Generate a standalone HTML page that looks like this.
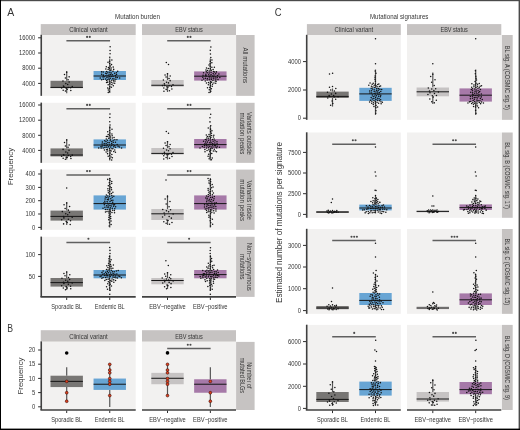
<!DOCTYPE html>
<html><head><meta charset="utf-8"><title>Figure</title>
<style>
html,body{margin:0;padding:0;background:#fff;}
body{width:520px;height:430px;overflow:hidden;}
svg{display:block;will-change:transform;}
text{font-family:"Liberation Sans",sans-serif;}
</style></head><body>
<svg width="520" height="430" viewBox="0 0 520 430">
<rect x="0.00" y="0.00" width="520.00" height="430.00" fill="#ffffff" />
<rect x="40.75" y="24.10" width="94.95" height="10.90" fill="#c6c3c2" />
<rect x="142.00" y="24.10" width="94.00" height="10.90" fill="#c6c3c2" />
<text x="88.45" y="32.10" font-size="7.4" text-anchor="middle" fill="#363636" textLength="38.60" lengthAdjust="spacingAndGlyphs">Clinical variant</text>
<text x="189.00" y="32.10" font-size="7.4" text-anchor="middle" fill="#363636" textLength="27.40" lengthAdjust="spacingAndGlyphs">EBV status</text>
<text x="137.50" y="19.40" font-size="6.7" text-anchor="middle" fill="#363636" textLength="45.00" lengthAdjust="spacingAndGlyphs">Mutation burden</text>
<text x="7.20" y="15.60" font-size="11.5" text-anchor="start" fill="#363636" textLength="7.00" lengthAdjust="spacingAndGlyphs">A</text>
<text x="7.20" y="332.20" font-size="11.5" text-anchor="start" fill="#363636" textLength="5.80" lengthAdjust="spacingAndGlyphs">B</text>
<rect x="41.20" y="35.00" width="94.50" height="60.85" fill="#f2f1f0" />
<rect x="142.00" y="35.00" width="94.00" height="60.85" fill="#f2f1f0" />
<rect x="236.10" y="35.00" width="18.50" height="60.85" fill="#c6c3c2" />
<line x1="41.25" y1="34.80" x2="41.25" y2="95.85" stroke="#404040" stroke-width="1.6"/>
<rect x="41.20" y="102.80" width="94.50" height="60.05" fill="#f2f1f0" />
<rect x="142.00" y="102.80" width="94.00" height="60.05" fill="#f2f1f0" />
<rect x="236.10" y="102.80" width="18.50" height="60.05" fill="#c6c3c2" />
<line x1="41.25" y1="102.60" x2="41.25" y2="162.85" stroke="#404040" stroke-width="1.6"/>
<rect x="41.20" y="169.60" width="94.50" height="60.25" fill="#f2f1f0" />
<rect x="142.00" y="169.60" width="94.00" height="60.25" fill="#f2f1f0" />
<rect x="236.10" y="169.60" width="18.50" height="60.25" fill="#c6c3c2" />
<line x1="41.25" y1="169.40" x2="41.25" y2="229.85" stroke="#404040" stroke-width="1.6"/>
<rect x="41.20" y="236.80" width="94.50" height="60.10" fill="#f2f1f0" />
<rect x="142.00" y="236.80" width="94.00" height="60.10" fill="#f2f1f0" />
<rect x="236.10" y="236.80" width="18.50" height="60.10" fill="#c6c3c2" />
<line x1="41.25" y1="236.60" x2="41.25" y2="296.90" stroke="#404040" stroke-width="1.6"/>
<line x1="40.45" y1="296.90" x2="135.70" y2="296.90" stroke="#404040" stroke-width="1.6"/>
<line x1="142.00" y1="296.90" x2="236.00" y2="296.90" stroke="#404040" stroke-width="1.6"/>
<line x1="66.70" y1="297.40" x2="66.70" y2="300.00" stroke="#2e2e2e" stroke-width="1.0"/>
<line x1="109.75" y1="297.40" x2="109.75" y2="300.00" stroke="#2e2e2e" stroke-width="1.0"/>
<line x1="167.50" y1="297.40" x2="167.50" y2="300.00" stroke="#2e2e2e" stroke-width="1.0"/>
<line x1="210.35" y1="297.40" x2="210.35" y2="300.00" stroke="#2e2e2e" stroke-width="1.0"/>
<text x="66.70" y="308.80" font-size="6.9" text-anchor="middle" fill="#363636" textLength="30.80" lengthAdjust="spacingAndGlyphs">Sporadic BL</text>
<text x="109.75" y="308.80" font-size="6.9" text-anchor="middle" fill="#363636" textLength="29.80" lengthAdjust="spacingAndGlyphs">Endemic BL</text>
<text x="167.50" y="308.80" font-size="6.9" text-anchor="middle" fill="#363636" textLength="36.50" lengthAdjust="spacingAndGlyphs">EBV−negative</text>
<text x="210.35" y="308.80" font-size="6.9" text-anchor="middle" fill="#363636" textLength="34.50" lengthAdjust="spacingAndGlyphs">EBV−positive</text>
<line x1="38.10" y1="37.80" x2="41.00" y2="37.80" stroke="#2e2e2e" stroke-width="1.0"/>
<text x="35.30" y="40.05" font-size="6.6" text-anchor="end" fill="#363636" textLength="16.25" lengthAdjust="spacingAndGlyphs">16000</text>
<line x1="38.10" y1="53.00" x2="41.00" y2="53.00" stroke="#2e2e2e" stroke-width="1.0"/>
<text x="35.30" y="55.25" font-size="6.6" text-anchor="end" fill="#363636" textLength="16.25" lengthAdjust="spacingAndGlyphs">12000</text>
<line x1="38.10" y1="68.20" x2="41.00" y2="68.20" stroke="#2e2e2e" stroke-width="1.0"/>
<text x="35.30" y="70.45" font-size="6.6" text-anchor="end" fill="#363636" textLength="13.00" lengthAdjust="spacingAndGlyphs">8000</text>
<line x1="38.10" y1="83.40" x2="41.00" y2="83.40" stroke="#2e2e2e" stroke-width="1.0"/>
<text x="35.30" y="85.65" font-size="6.6" text-anchor="end" fill="#363636" textLength="13.00" lengthAdjust="spacingAndGlyphs">4000</text>
<line x1="38.10" y1="105.00" x2="41.00" y2="105.00" stroke="#2e2e2e" stroke-width="1.0"/>
<text x="35.30" y="107.25" font-size="6.6" text-anchor="end" fill="#363636" textLength="16.25" lengthAdjust="spacingAndGlyphs">16000</text>
<line x1="38.10" y1="120.20" x2="41.00" y2="120.20" stroke="#2e2e2e" stroke-width="1.0"/>
<text x="35.30" y="122.45" font-size="6.6" text-anchor="end" fill="#363636" textLength="16.25" lengthAdjust="spacingAndGlyphs">12000</text>
<line x1="38.10" y1="135.30" x2="41.00" y2="135.30" stroke="#2e2e2e" stroke-width="1.0"/>
<text x="35.30" y="137.55" font-size="6.6" text-anchor="end" fill="#363636" textLength="13.00" lengthAdjust="spacingAndGlyphs">8000</text>
<line x1="38.10" y1="150.40" x2="41.00" y2="150.40" stroke="#2e2e2e" stroke-width="1.0"/>
<text x="35.30" y="152.65" font-size="6.6" text-anchor="end" fill="#363636" textLength="13.00" lengthAdjust="spacingAndGlyphs">4000</text>
<line x1="38.10" y1="174.00" x2="41.00" y2="174.00" stroke="#2e2e2e" stroke-width="1.0"/>
<text x="35.30" y="176.25" font-size="6.6" text-anchor="end" fill="#363636" textLength="9.75" lengthAdjust="spacingAndGlyphs">400</text>
<line x1="38.10" y1="187.40" x2="41.00" y2="187.40" stroke="#2e2e2e" stroke-width="1.0"/>
<text x="35.30" y="189.65" font-size="6.6" text-anchor="end" fill="#363636" textLength="9.75" lengthAdjust="spacingAndGlyphs">300</text>
<line x1="38.10" y1="200.70" x2="41.00" y2="200.70" stroke="#2e2e2e" stroke-width="1.0"/>
<text x="35.30" y="202.95" font-size="6.6" text-anchor="end" fill="#363636" textLength="9.75" lengthAdjust="spacingAndGlyphs">200</text>
<line x1="38.10" y1="214.00" x2="41.00" y2="214.00" stroke="#2e2e2e" stroke-width="1.0"/>
<text x="35.30" y="216.25" font-size="6.6" text-anchor="end" fill="#363636" textLength="9.75" lengthAdjust="spacingAndGlyphs">100</text>
<line x1="38.10" y1="227.40" x2="41.00" y2="227.40" stroke="#2e2e2e" stroke-width="1.0"/>
<text x="35.30" y="229.65" font-size="6.6" text-anchor="end" fill="#363636" textLength="3.25" lengthAdjust="spacingAndGlyphs">0</text>
<line x1="38.10" y1="254.60" x2="41.00" y2="254.60" stroke="#2e2e2e" stroke-width="1.0"/>
<text x="35.30" y="256.85" font-size="6.6" text-anchor="end" fill="#363636" textLength="9.75" lengthAdjust="spacingAndGlyphs">100</text>
<line x1="38.10" y1="276.40" x2="41.00" y2="276.40" stroke="#2e2e2e" stroke-width="1.0"/>
<text x="35.30" y="278.65" font-size="6.6" text-anchor="end" fill="#363636" textLength="6.50" lengthAdjust="spacingAndGlyphs">50</text>
<text transform="translate(12.80,166.60) rotate(-90)" font-size="8.0" text-anchor="middle" fill="#363636" textLength="37.40" lengthAdjust="spacingAndGlyphs">Frequency</text>
<text transform="translate(243.40,65.30) rotate(90)" font-size="7.0" text-anchor="middle" fill="#363636" textLength="35.50" lengthAdjust="spacingAndGlyphs">All mutations</text>
<text transform="translate(247.40,133.50) rotate(90)" font-size="7.0" text-anchor="middle" fill="#363636" textLength="43.00" lengthAdjust="spacingAndGlyphs">Variants outside</text>
<text transform="translate(239.60,133.50) rotate(90)" font-size="7.0" text-anchor="middle" fill="#363636" textLength="41.80" lengthAdjust="spacingAndGlyphs">mutation peaks</text>
<text transform="translate(247.40,200.20) rotate(90)" font-size="7.0" text-anchor="middle" fill="#363636" textLength="39.50" lengthAdjust="spacingAndGlyphs">Variants inside</text>
<text transform="translate(239.60,200.20) rotate(90)" font-size="7.0" text-anchor="middle" fill="#363636" textLength="41.80" lengthAdjust="spacingAndGlyphs">mutation peaks</text>
<text transform="translate(247.40,266.80) rotate(90)" font-size="7.0" text-anchor="middle" fill="#363636" textLength="48.00" lengthAdjust="spacingAndGlyphs">Non−synonymous</text>
<text transform="translate(239.60,266.80) rotate(90)" font-size="7.0" text-anchor="middle" fill="#363636" textLength="25.50" lengthAdjust="spacingAndGlyphs">mutations</text>
<line x1="66.70" y1="70.90" x2="66.70" y2="80.80" stroke="#555" stroke-width="1.2"/>
<line x1="66.70" y1="88.10" x2="66.70" y2="93.20" stroke="#555" stroke-width="1.2"/>
<rect x="50.50" y="80.80" width="32.40" height="7.30" fill="#787674" />
<line x1="50.50" y1="87.40" x2="82.90" y2="87.40" stroke="#161616" stroke-width="1.0"/>
<line x1="109.75" y1="58.50" x2="109.75" y2="71.00" stroke="#555" stroke-width="1.2"/>
<line x1="109.75" y1="80.00" x2="109.75" y2="93.00" stroke="#555" stroke-width="1.2"/>
<rect x="93.55" y="71.00" width="32.40" height="9.00" fill="#68a5d4" />
<line x1="93.55" y1="76.00" x2="125.95" y2="76.00" stroke="#161616" stroke-width="1.0"/>
<line x1="167.50" y1="73.00" x2="167.50" y2="80.00" stroke="#555" stroke-width="1.2"/>
<line x1="167.50" y1="86.75" x2="167.50" y2="92.00" stroke="#555" stroke-width="1.2"/>
<rect x="151.30" y="80.00" width="32.40" height="6.75" fill="#c6c3c3" />
<line x1="151.30" y1="85.25" x2="183.70" y2="85.25" stroke="#161616" stroke-width="1.0"/>
<line x1="210.35" y1="58.50" x2="210.35" y2="71.40" stroke="#555" stroke-width="1.2"/>
<line x1="210.35" y1="80.60" x2="210.35" y2="93.00" stroke="#555" stroke-width="1.2"/>
<rect x="194.15" y="71.40" width="32.40" height="9.20" fill="#a679a8" />
<line x1="194.15" y1="76.20" x2="226.55" y2="76.20" stroke="#161616" stroke-width="1.0"/>
<circle cx="66.70" cy="72.33" r="0.76" fill="#111" />
<circle cx="64.49" cy="74.55" r="0.76" fill="#111" />
<circle cx="69.15" cy="76.87" r="0.76" fill="#111" />
<circle cx="65.39" cy="77.91" r="0.76" fill="#111" />
<circle cx="68.09" cy="79.78" r="0.76" fill="#111" />
<circle cx="62.97" cy="81.01" r="0.76" fill="#111" />
<circle cx="69.12" cy="82.01" r="0.76" fill="#111" />
<circle cx="65.81" cy="83.61" r="0.76" fill="#111" />
<circle cx="67.69" cy="84.47" r="0.76" fill="#111" />
<circle cx="63.47" cy="86.03" r="0.76" fill="#111" />
<circle cx="72.26" cy="86.51" r="0.76" fill="#111" />
<circle cx="63.90" cy="86.82" r="0.76" fill="#111" />
<circle cx="68.39" cy="87.39" r="0.76" fill="#111" />
<circle cx="61.64" cy="88.01" r="0.76" fill="#111" />
<circle cx="70.62" cy="87.75" r="0.76" fill="#111" />
<circle cx="66.15" cy="88.31" r="0.76" fill="#111" />
<circle cx="67.23" cy="89.29" r="0.76" fill="#111" />
<circle cx="63.21" cy="90.21" r="0.76" fill="#111" />
<circle cx="70.83" cy="90.57" r="0.76" fill="#111" />
<circle cx="65.46" cy="91.09" r="0.76" fill="#111" />
<circle cx="109.30" cy="76.34" r="0.76" fill="#111" />
<circle cx="111.17" cy="76.49" r="0.76" fill="#111" />
<circle cx="108.03" cy="75.78" r="0.76" fill="#111" />
<circle cx="113.06" cy="76.58" r="0.76" fill="#111" />
<circle cx="105.95" cy="75.72" r="0.76" fill="#111" />
<circle cx="104.14" cy="76.86" r="0.76" fill="#111" />
<circle cx="115.32" cy="75.63" r="0.76" fill="#111" />
<circle cx="102.99" cy="77.05" r="0.76" fill="#111" />
<circle cx="103.34" cy="75.13" r="0.76" fill="#111" />
<circle cx="115.80" cy="77.21" r="0.76" fill="#111" />
<circle cx="112.50" cy="74.85" r="0.76" fill="#111" />
<circle cx="106.97" cy="77.52" r="0.76" fill="#111" />
<circle cx="117.35" cy="77.47" r="0.76" fill="#111" />
<circle cx="110.72" cy="74.62" r="0.76" fill="#111" />
<circle cx="108.87" cy="77.97" r="0.76" fill="#111" />
<circle cx="116.55" cy="74.47" r="0.76" fill="#111" />
<circle cx="100.28" cy="78.01" r="0.76" fill="#111" />
<circle cx="101.63" cy="74.36" r="0.76" fill="#111" />
<circle cx="119.68" cy="77.94" r="0.76" fill="#111" />
<circle cx="109.05" cy="74.17" r="0.76" fill="#111" />
<circle cx="110.32" cy="78.24" r="0.76" fill="#111" />
<circle cx="106.77" cy="73.82" r="0.76" fill="#111" />
<circle cx="112.77" cy="78.72" r="0.76" fill="#111" />
<circle cx="114.03" cy="78.89" r="0.76" fill="#111" />
<circle cx="105.71" cy="73.32" r="0.76" fill="#111" />
<circle cx="105.65" cy="78.90" r="0.76" fill="#111" />
<circle cx="114.66" cy="73.37" r="0.76" fill="#111" />
<circle cx="103.35" cy="79.32" r="0.76" fill="#111" />
<circle cx="111.22" cy="72.90" r="0.76" fill="#111" />
<circle cx="115.90" cy="79.19" r="0.76" fill="#111" />
<circle cx="116.42" cy="72.73" r="0.76" fill="#111" />
<circle cx="107.74" cy="79.75" r="0.76" fill="#111" />
<circle cx="109.84" cy="72.33" r="0.76" fill="#111" />
<circle cx="101.65" cy="79.67" r="0.76" fill="#111" />
<circle cx="107.89" cy="72.24" r="0.76" fill="#111" />
<circle cx="109.25" cy="79.84" r="0.76" fill="#111" />
<circle cx="111.78" cy="80.35" r="0.76" fill="#111" />
<circle cx="103.23" cy="72.00" r="0.76" fill="#111" />
<circle cx="101.60" cy="71.87" r="0.76" fill="#111" />
<circle cx="106.59" cy="80.57" r="0.76" fill="#111" />
<circle cx="112.97" cy="71.37" r="0.76" fill="#111" />
<circle cx="113.63" cy="80.88" r="0.76" fill="#111" />
<circle cx="106.53" cy="71.44" r="0.76" fill="#111" />
<circle cx="117.69" cy="71.23" r="0.76" fill="#111" />
<circle cx="114.98" cy="81.12" r="0.76" fill="#111" />
<circle cx="109.76" cy="81.69" r="0.76" fill="#111" />
<circle cx="110.24" cy="70.36" r="0.76" fill="#111" />
<circle cx="107.72" cy="82.13" r="0.76" fill="#111" />
<circle cx="111.18" cy="69.93" r="0.76" fill="#111" />
<circle cx="111.31" cy="82.30" r="0.76" fill="#111" />
<circle cx="108.15" cy="69.56" r="0.76" fill="#111" />
<circle cx="106.59" cy="82.49" r="0.76" fill="#111" />
<circle cx="113.71" cy="69.38" r="0.76" fill="#111" />
<circle cx="112.98" cy="83.03" r="0.76" fill="#111" />
<circle cx="105.85" cy="68.90" r="0.76" fill="#111" />
<circle cx="114.67" cy="83.31" r="0.76" fill="#111" />
<circle cx="109.27" cy="68.34" r="0.76" fill="#111" />
<circle cx="109.80" cy="83.88" r="0.76" fill="#111" />
<circle cx="111.16" cy="67.89" r="0.76" fill="#111" />
<circle cx="111.88" cy="84.42" r="0.76" fill="#111" />
<circle cx="108.43" cy="67.57" r="0.76" fill="#111" />
<circle cx="113.20" cy="67.12" r="0.76" fill="#111" />
<circle cx="108.19" cy="84.80" r="0.76" fill="#111" />
<circle cx="106.32" cy="66.66" r="0.76" fill="#111" />
<circle cx="113.30" cy="85.67" r="0.76" fill="#111" />
<circle cx="110.21" cy="65.97" r="0.76" fill="#111" />
<circle cx="109.80" cy="86.78" r="0.76" fill="#111" />
<circle cx="111.41" cy="87.18" r="0.76" fill="#111" />
<circle cx="111.55" cy="64.62" r="0.76" fill="#111" />
<circle cx="107.71" cy="87.92" r="0.76" fill="#111" />
<circle cx="109.65" cy="63.44" r="0.76" fill="#111" />
<circle cx="109.27" cy="88.60" r="0.76" fill="#111" />
<circle cx="107.98" cy="62.33" r="0.76" fill="#111" />
<circle cx="108.33" cy="90.08" r="0.76" fill="#111" />
<circle cx="109.58" cy="61.15" r="0.76" fill="#111" />
<circle cx="109.40" cy="91.41" r="0.76" fill="#111" />
<circle cx="111.89" cy="60.10" r="0.76" fill="#111" />
<circle cx="108.26" cy="92.59" r="0.76" fill="#111" />
<circle cx="109.77" cy="57.20" r="0.76" fill="#111" />
<circle cx="110.08" cy="53.84" r="0.76" fill="#111" />
<circle cx="110.08" cy="50.46" r="0.76" fill="#111" />
<circle cx="110.14" cy="46.81" r="0.76" fill="#111" />
<circle cx="167.50" cy="73.78" r="0.76" fill="#111" />
<circle cx="165.05" cy="75.06" r="0.76" fill="#111" />
<circle cx="170.19" cy="75.97" r="0.76" fill="#111" />
<circle cx="166.05" cy="77.08" r="0.76" fill="#111" />
<circle cx="169.04" cy="78.43" r="0.76" fill="#111" />
<circle cx="163.37" cy="79.89" r="0.76" fill="#111" />
<circle cx="170.13" cy="80.63" r="0.76" fill="#111" />
<circle cx="166.57" cy="82.16" r="0.76" fill="#111" />
<circle cx="168.49" cy="82.88" r="0.76" fill="#111" />
<circle cx="164.34" cy="83.88" r="0.76" fill="#111" />
<circle cx="173.00" cy="84.83" r="0.76" fill="#111" />
<circle cx="164.70" cy="85.51" r="0.76" fill="#111" />
<circle cx="169.19" cy="85.68" r="0.76" fill="#111" />
<circle cx="162.44" cy="85.62" r="0.76" fill="#111" />
<circle cx="171.43" cy="86.58" r="0.76" fill="#111" />
<circle cx="166.94" cy="86.87" r="0.76" fill="#111" />
<circle cx="168.05" cy="87.00" r="0.76" fill="#111" />
<circle cx="163.82" cy="87.94" r="0.76" fill="#111" />
<circle cx="171.89" cy="88.95" r="0.76" fill="#111" />
<circle cx="166.18" cy="89.38" r="0.76" fill="#111" />
<circle cx="169.45" cy="90.83" r="0.76" fill="#111" />
<circle cx="163.95" cy="91.35" r="0.76" fill="#111" />
<circle cx="166.30" cy="62.50" r="0.76" fill="#111" />
<circle cx="168.50" cy="64.60" r="0.76" fill="#111" />
<circle cx="210.12" cy="76.10" r="0.76" fill="#111" />
<circle cx="209.03" cy="76.64" r="0.76" fill="#111" />
<circle cx="212.33" cy="76.08" r="0.76" fill="#111" />
<circle cx="213.70" cy="76.88" r="0.76" fill="#111" />
<circle cx="206.52" cy="75.96" r="0.76" fill="#111" />
<circle cx="215.37" cy="77.06" r="0.76" fill="#111" />
<circle cx="205.42" cy="75.80" r="0.76" fill="#111" />
<circle cx="202.78" cy="77.16" r="0.76" fill="#111" />
<circle cx="217.54" cy="75.52" r="0.76" fill="#111" />
<circle cx="217.17" cy="77.39" r="0.76" fill="#111" />
<circle cx="203.08" cy="75.33" r="0.76" fill="#111" />
<circle cx="219.81" cy="77.52" r="0.76" fill="#111" />
<circle cx="214.00" cy="75.07" r="0.76" fill="#111" />
<circle cx="209.90" cy="77.96" r="0.76" fill="#111" />
<circle cx="208.69" cy="74.76" r="0.76" fill="#111" />
<circle cx="211.78" cy="77.96" r="0.76" fill="#111" />
<circle cx="211.05" cy="74.39" r="0.76" fill="#111" />
<circle cx="207.45" cy="78.41" r="0.76" fill="#111" />
<circle cx="205.85" cy="74.19" r="0.76" fill="#111" />
<circle cx="205.44" cy="78.37" r="0.76" fill="#111" />
<circle cx="215.66" cy="73.84" r="0.76" fill="#111" />
<circle cx="213.73" cy="78.69" r="0.76" fill="#111" />
<circle cx="218.90" cy="73.91" r="0.76" fill="#111" />
<circle cx="215.84" cy="79.12" r="0.76" fill="#111" />
<circle cx="203.70" cy="78.92" r="0.76" fill="#111" />
<circle cx="213.20" cy="73.45" r="0.76" fill="#111" />
<circle cx="211.30" cy="79.52" r="0.76" fill="#111" />
<circle cx="209.18" cy="72.97" r="0.76" fill="#111" />
<circle cx="209.25" cy="79.82" r="0.76" fill="#111" />
<circle cx="207.26" cy="72.77" r="0.76" fill="#111" />
<circle cx="218.01" cy="79.62" r="0.76" fill="#111" />
<circle cx="203.57" cy="72.79" r="0.76" fill="#111" />
<circle cx="207.18" cy="80.05" r="0.76" fill="#111" />
<circle cx="211.09" cy="72.34" r="0.76" fill="#111" />
<circle cx="201.98" cy="80.23" r="0.76" fill="#111" />
<circle cx="214.57" cy="72.10" r="0.76" fill="#111" />
<circle cx="212.94" cy="80.45" r="0.76" fill="#111" />
<circle cx="206.25" cy="71.86" r="0.76" fill="#111" />
<circle cx="215.29" cy="80.96" r="0.76" fill="#111" />
<circle cx="216.43" cy="71.88" r="0.76" fill="#111" />
<circle cx="205.27" cy="81.02" r="0.76" fill="#111" />
<circle cx="213.47" cy="71.49" r="0.76" fill="#111" />
<circle cx="216.18" cy="81.26" r="0.76" fill="#111" />
<circle cx="209.21" cy="70.95" r="0.76" fill="#111" />
<circle cx="210.75" cy="81.87" r="0.76" fill="#111" />
<circle cx="207.41" cy="70.61" r="0.76" fill="#111" />
<circle cx="211.65" cy="82.18" r="0.76" fill="#111" />
<circle cx="211.38" cy="70.35" r="0.76" fill="#111" />
<circle cx="208.53" cy="82.62" r="0.76" fill="#111" />
<circle cx="213.94" cy="82.95" r="0.76" fill="#111" />
<circle cx="205.96" cy="69.97" r="0.76" fill="#111" />
<circle cx="206.45" cy="82.97" r="0.76" fill="#111" />
<circle cx="213.10" cy="69.41" r="0.76" fill="#111" />
<circle cx="215.75" cy="83.29" r="0.76" fill="#111" />
<circle cx="210.30" cy="83.81" r="0.76" fill="#111" />
<circle cx="210.27" cy="68.68" r="0.76" fill="#111" />
<circle cx="212.50" cy="84.14" r="0.76" fill="#111" />
<circle cx="208.34" cy="68.42" r="0.76" fill="#111" />
<circle cx="206.50" cy="67.90" r="0.76" fill="#111" />
<circle cx="208.38" cy="84.69" r="0.76" fill="#111" />
<circle cx="211.88" cy="67.34" r="0.76" fill="#111" />
<circle cx="210.50" cy="85.79" r="0.76" fill="#111" />
<circle cx="214.36" cy="67.17" r="0.76" fill="#111" />
<circle cx="210.14" cy="66.15" r="0.76" fill="#111" />
<circle cx="212.23" cy="86.23" r="0.76" fill="#111" />
<circle cx="209.82" cy="87.42" r="0.76" fill="#111" />
<circle cx="209.00" cy="65.10" r="0.76" fill="#111" />
<circle cx="207.52" cy="87.79" r="0.76" fill="#111" />
<circle cx="210.05" cy="63.70" r="0.76" fill="#111" />
<circle cx="211.40" cy="88.64" r="0.76" fill="#111" />
<circle cx="209.28" cy="89.73" r="0.76" fill="#111" />
<circle cx="211.85" cy="62.71" r="0.76" fill="#111" />
<circle cx="210.81" cy="91.27" r="0.76" fill="#111" />
<circle cx="210.25" cy="61.18" r="0.76" fill="#111" />
<circle cx="209.04" cy="92.40" r="0.76" fill="#111" />
<circle cx="211.93" cy="59.96" r="0.76" fill="#111" />
<circle cx="210.80" cy="57.59" r="0.76" fill="#111" />
<circle cx="210.42" cy="53.97" r="0.76" fill="#111" />
<circle cx="210.27" cy="50.37" r="0.76" fill="#111" />
<circle cx="210.85" cy="46.99" r="0.76" fill="#111" />
<line x1="66.40" y1="40.80" x2="110.05" y2="40.80" stroke="#606060" stroke-width="1.5"/>
<circle cx="87.08" cy="36.90" r="1.05" fill="#4a4a4a" />
<circle cx="89.77" cy="36.90" r="1.05" fill="#4a4a4a" />
<line x1="167.20" y1="40.80" x2="210.65" y2="40.80" stroke="#606060" stroke-width="1.5"/>
<circle cx="187.78" cy="36.90" r="1.05" fill="#4a4a4a" />
<circle cx="190.47" cy="36.90" r="1.05" fill="#4a4a4a" />
<line x1="66.70" y1="139.00" x2="66.70" y2="148.40" stroke="#555" stroke-width="1.2"/>
<line x1="66.70" y1="156.40" x2="66.70" y2="159.50" stroke="#555" stroke-width="1.2"/>
<rect x="50.50" y="148.40" width="32.40" height="8.00" fill="#787674" />
<line x1="50.50" y1="155.00" x2="82.90" y2="155.00" stroke="#161616" stroke-width="1.0"/>
<line x1="109.75" y1="126.00" x2="109.75" y2="139.40" stroke="#555" stroke-width="1.2"/>
<line x1="109.75" y1="148.40" x2="109.75" y2="160.50" stroke="#555" stroke-width="1.2"/>
<rect x="93.55" y="139.40" width="32.40" height="9.00" fill="#68a5d4" />
<line x1="93.55" y1="145.00" x2="125.95" y2="145.00" stroke="#161616" stroke-width="1.0"/>
<line x1="167.50" y1="141.00" x2="167.50" y2="148.00" stroke="#555" stroke-width="1.2"/>
<line x1="167.50" y1="154.60" x2="167.50" y2="159.50" stroke="#555" stroke-width="1.2"/>
<rect x="151.30" y="148.00" width="32.40" height="6.60" fill="#c6c3c3" />
<line x1="151.30" y1="153.40" x2="183.70" y2="153.40" stroke="#161616" stroke-width="1.0"/>
<line x1="210.35" y1="126.00" x2="210.35" y2="139.00" stroke="#555" stroke-width="1.2"/>
<line x1="210.35" y1="148.40" x2="210.35" y2="160.50" stroke="#555" stroke-width="1.2"/>
<rect x="194.15" y="139.00" width="32.40" height="9.40" fill="#a679a8" />
<line x1="194.15" y1="144.60" x2="226.55" y2="144.60" stroke="#161616" stroke-width="1.0"/>
<circle cx="66.70" cy="139.99" r="0.76" fill="#111" />
<circle cx="64.52" cy="142.46" r="0.76" fill="#111" />
<circle cx="69.13" cy="144.92" r="0.76" fill="#111" />
<circle cx="65.40" cy="145.96" r="0.76" fill="#111" />
<circle cx="68.07" cy="147.27" r="0.76" fill="#111" />
<circle cx="63.08" cy="149.38" r="0.76" fill="#111" />
<circle cx="69.03" cy="150.32" r="0.76" fill="#111" />
<circle cx="65.84" cy="151.96" r="0.76" fill="#111" />
<circle cx="67.66" cy="152.94" r="0.76" fill="#111" />
<circle cx="63.51" cy="154.65" r="0.76" fill="#111" />
<circle cx="72.24" cy="155.13" r="0.76" fill="#111" />
<circle cx="63.90" cy="155.21" r="0.76" fill="#111" />
<circle cx="68.39" cy="155.41" r="0.76" fill="#111" />
<circle cx="61.64" cy="156.16" r="0.76" fill="#111" />
<circle cx="70.62" cy="156.55" r="0.76" fill="#111" />
<circle cx="66.15" cy="157.22" r="0.76" fill="#111" />
<circle cx="67.23" cy="157.14" r="0.76" fill="#111" />
<circle cx="63.16" cy="158.15" r="0.76" fill="#111" />
<circle cx="70.95" cy="158.53" r="0.76" fill="#111" />
<circle cx="65.40" cy="159.21" r="0.76" fill="#111" />
<circle cx="109.53" cy="144.91" r="0.76" fill="#111" />
<circle cx="111.54" cy="145.27" r="0.76" fill="#111" />
<circle cx="107.58" cy="145.02" r="0.76" fill="#111" />
<circle cx="106.04" cy="145.66" r="0.76" fill="#111" />
<circle cx="113.07" cy="144.79" r="0.76" fill="#111" />
<circle cx="104.23" cy="145.57" r="0.76" fill="#111" />
<circle cx="114.69" cy="145.60" r="0.76" fill="#111" />
<circle cx="117.11" cy="144.49" r="0.76" fill="#111" />
<circle cx="102.23" cy="145.94" r="0.76" fill="#111" />
<circle cx="102.13" cy="144.03" r="0.76" fill="#111" />
<circle cx="118.08" cy="146.26" r="0.76" fill="#111" />
<circle cx="101.01" cy="146.47" r="0.76" fill="#111" />
<circle cx="106.15" cy="143.60" r="0.76" fill="#111" />
<circle cx="108.61" cy="146.70" r="0.76" fill="#111" />
<circle cx="113.79" cy="146.67" r="0.76" fill="#111" />
<circle cx="104.21" cy="143.59" r="0.76" fill="#111" />
<circle cx="110.73" cy="147.03" r="0.76" fill="#111" />
<circle cx="111.68" cy="143.42" r="0.76" fill="#111" />
<circle cx="119.40" cy="146.97" r="0.76" fill="#111" />
<circle cx="106.86" cy="147.26" r="0.76" fill="#111" />
<circle cx="109.28" cy="142.70" r="0.76" fill="#111" />
<circle cx="115.57" cy="147.20" r="0.76" fill="#111" />
<circle cx="107.81" cy="142.43" r="0.76" fill="#111" />
<circle cx="104.88" cy="147.41" r="0.76" fill="#111" />
<circle cx="103.21" cy="147.94" r="0.76" fill="#111" />
<circle cx="113.29" cy="142.16" r="0.76" fill="#111" />
<circle cx="101.16" cy="148.12" r="0.76" fill="#111" />
<circle cx="115.46" cy="142.16" r="0.76" fill="#111" />
<circle cx="98.68" cy="147.91" r="0.76" fill="#111" />
<circle cx="121.59" cy="148.05" r="0.76" fill="#111" />
<circle cx="102.38" cy="142.09" r="0.76" fill="#111" />
<circle cx="109.58" cy="148.61" r="0.76" fill="#111" />
<circle cx="111.74" cy="141.45" r="0.76" fill="#111" />
<circle cx="111.89" cy="148.68" r="0.76" fill="#111" />
<circle cx="105.96" cy="141.41" r="0.76" fill="#111" />
<circle cx="112.88" cy="148.77" r="0.76" fill="#111" />
<circle cx="110.18" cy="140.84" r="0.76" fill="#111" />
<circle cx="107.49" cy="149.16" r="0.76" fill="#111" />
<circle cx="104.67" cy="140.86" r="0.76" fill="#111" />
<circle cx="106.59" cy="149.72" r="0.76" fill="#111" />
<circle cx="107.48" cy="140.30" r="0.76" fill="#111" />
<circle cx="114.75" cy="150.05" r="0.76" fill="#111" />
<circle cx="113.11" cy="140.35" r="0.76" fill="#111" />
<circle cx="104.47" cy="150.09" r="0.76" fill="#111" />
<circle cx="114.87" cy="139.71" r="0.76" fill="#111" />
<circle cx="116.94" cy="139.85" r="0.76" fill="#111" />
<circle cx="110.05" cy="150.51" r="0.76" fill="#111" />
<circle cx="110.50" cy="139.24" r="0.76" fill="#111" />
<circle cx="107.73" cy="151.00" r="0.76" fill="#111" />
<circle cx="111.16" cy="151.01" r="0.76" fill="#111" />
<circle cx="106.28" cy="139.01" r="0.76" fill="#111" />
<circle cx="113.74" cy="151.40" r="0.76" fill="#111" />
<circle cx="108.61" cy="138.24" r="0.76" fill="#111" />
<circle cx="106.11" cy="151.99" r="0.76" fill="#111" />
<circle cx="112.30" cy="138.04" r="0.76" fill="#111" />
<circle cx="115.42" cy="152.17" r="0.76" fill="#111" />
<circle cx="114.05" cy="137.60" r="0.76" fill="#111" />
<circle cx="110.09" cy="153.12" r="0.76" fill="#111" />
<circle cx="110.40" cy="136.93" r="0.76" fill="#111" />
<circle cx="107.78" cy="136.56" r="0.76" fill="#111" />
<circle cx="107.55" cy="153.63" r="0.76" fill="#111" />
<circle cx="106.38" cy="136.41" r="0.76" fill="#111" />
<circle cx="112.16" cy="135.69" r="0.76" fill="#111" />
<circle cx="111.84" cy="154.49" r="0.76" fill="#111" />
<circle cx="109.75" cy="135.36" r="0.76" fill="#111" />
<circle cx="109.71" cy="155.37" r="0.76" fill="#111" />
<circle cx="108.19" cy="134.62" r="0.76" fill="#111" />
<circle cx="108.20" cy="156.27" r="0.76" fill="#111" />
<circle cx="111.93" cy="134.05" r="0.76" fill="#111" />
<circle cx="111.00" cy="156.97" r="0.76" fill="#111" />
<circle cx="109.89" cy="132.96" r="0.76" fill="#111" />
<circle cx="112.37" cy="157.81" r="0.76" fill="#111" />
<circle cx="107.70" cy="131.79" r="0.76" fill="#111" />
<circle cx="109.71" cy="158.86" r="0.76" fill="#111" />
<circle cx="109.66" cy="130.49" r="0.76" fill="#111" />
<circle cx="111.70" cy="160.05" r="0.76" fill="#111" />
<circle cx="112.02" cy="129.35" r="0.76" fill="#111" />
<circle cx="109.79" cy="127.76" r="0.76" fill="#111" />
<circle cx="110.03" cy="125.06" r="0.76" fill="#111" />
<circle cx="109.77" cy="121.67" r="0.76" fill="#111" />
<circle cx="109.82" cy="117.47" r="0.76" fill="#111" />
<circle cx="109.97" cy="113.91" r="0.76" fill="#111" />
<circle cx="167.50" cy="141.65" r="0.76" fill="#111" />
<circle cx="165.09" cy="143.02" r="0.76" fill="#111" />
<circle cx="170.14" cy="144.45" r="0.76" fill="#111" />
<circle cx="166.08" cy="145.47" r="0.76" fill="#111" />
<circle cx="169.00" cy="146.66" r="0.76" fill="#111" />
<circle cx="163.49" cy="148.36" r="0.76" fill="#111" />
<circle cx="170.05" cy="148.75" r="0.76" fill="#111" />
<circle cx="166.59" cy="150.11" r="0.76" fill="#111" />
<circle cx="168.48" cy="150.86" r="0.76" fill="#111" />
<circle cx="164.37" cy="152.14" r="0.76" fill="#111" />
<circle cx="172.99" cy="152.61" r="0.76" fill="#111" />
<circle cx="164.70" cy="153.93" r="0.76" fill="#111" />
<circle cx="169.18" cy="153.72" r="0.76" fill="#111" />
<circle cx="162.44" cy="153.77" r="0.76" fill="#111" />
<circle cx="171.43" cy="154.24" r="0.76" fill="#111" />
<circle cx="166.94" cy="154.63" r="0.76" fill="#111" />
<circle cx="168.05" cy="154.61" r="0.76" fill="#111" />
<circle cx="163.77" cy="155.75" r="0.76" fill="#111" />
<circle cx="171.99" cy="156.57" r="0.76" fill="#111" />
<circle cx="166.13" cy="157.61" r="0.76" fill="#111" />
<circle cx="169.53" cy="158.15" r="0.76" fill="#111" />
<circle cx="163.75" cy="158.90" r="0.76" fill="#111" />
<circle cx="166.30" cy="131.50" r="0.76" fill="#111" />
<circle cx="168.50" cy="133.20" r="0.76" fill="#111" />
<circle cx="210.59" cy="144.56" r="0.76" fill="#111" />
<circle cx="212.45" cy="145.12" r="0.76" fill="#111" />
<circle cx="208.83" cy="144.41" r="0.76" fill="#111" />
<circle cx="214.41" cy="145.25" r="0.76" fill="#111" />
<circle cx="206.54" cy="144.11" r="0.76" fill="#111" />
<circle cx="215.50" cy="145.32" r="0.76" fill="#111" />
<circle cx="204.93" cy="143.86" r="0.76" fill="#111" />
<circle cx="204.46" cy="145.46" r="0.76" fill="#111" />
<circle cx="206.30" cy="145.84" r="0.76" fill="#111" />
<circle cx="217.05" cy="143.70" r="0.76" fill="#111" />
<circle cx="207.93" cy="146.05" r="0.76" fill="#111" />
<circle cx="212.75" cy="143.42" r="0.76" fill="#111" />
<circle cx="209.69" cy="146.20" r="0.76" fill="#111" />
<circle cx="217.19" cy="146.27" r="0.76" fill="#111" />
<circle cx="214.82" cy="143.06" r="0.76" fill="#111" />
<circle cx="202.36" cy="146.53" r="0.76" fill="#111" />
<circle cx="211.08" cy="142.87" r="0.76" fill="#111" />
<circle cx="211.23" cy="146.94" r="0.76" fill="#111" />
<circle cx="209.67" cy="142.70" r="0.76" fill="#111" />
<circle cx="213.02" cy="146.96" r="0.76" fill="#111" />
<circle cx="215.18" cy="147.11" r="0.76" fill="#111" />
<circle cx="207.42" cy="142.12" r="0.76" fill="#111" />
<circle cx="204.18" cy="147.30" r="0.76" fill="#111" />
<circle cx="205.65" cy="142.08" r="0.76" fill="#111" />
<circle cx="219.45" cy="147.25" r="0.76" fill="#111" />
<circle cx="208.51" cy="147.79" r="0.76" fill="#111" />
<circle cx="216.97" cy="141.79" r="0.76" fill="#111" />
<circle cx="206.57" cy="148.04" r="0.76" fill="#111" />
<circle cx="213.12" cy="141.35" r="0.76" fill="#111" />
<circle cx="216.74" cy="147.87" r="0.76" fill="#111" />
<circle cx="203.57" cy="141.32" r="0.76" fill="#111" />
<circle cx="200.00" cy="148.05" r="0.76" fill="#111" />
<circle cx="210.56" cy="148.64" r="0.76" fill="#111" />
<circle cx="210.58" cy="141.00" r="0.76" fill="#111" />
<circle cx="212.11" cy="148.56" r="0.76" fill="#111" />
<circle cx="215.00" cy="140.76" r="0.76" fill="#111" />
<circle cx="214.31" cy="149.25" r="0.76" fill="#111" />
<circle cx="208.62" cy="140.25" r="0.76" fill="#111" />
<circle cx="204.87" cy="149.39" r="0.76" fill="#111" />
<circle cx="206.54" cy="139.92" r="0.76" fill="#111" />
<circle cx="212.48" cy="139.48" r="0.76" fill="#111" />
<circle cx="208.88" cy="149.66" r="0.76" fill="#111" />
<circle cx="205.35" cy="139.47" r="0.76" fill="#111" />
<circle cx="210.75" cy="150.22" r="0.76" fill="#111" />
<circle cx="210.27" cy="139.02" r="0.76" fill="#111" />
<circle cx="207.06" cy="150.44" r="0.76" fill="#111" />
<circle cx="214.13" cy="138.97" r="0.76" fill="#111" />
<circle cx="213.35" cy="150.93" r="0.76" fill="#111" />
<circle cx="208.28" cy="138.20" r="0.76" fill="#111" />
<circle cx="215.14" cy="151.11" r="0.76" fill="#111" />
<circle cx="209.76" cy="151.36" r="0.76" fill="#111" />
<circle cx="206.77" cy="138.05" r="0.76" fill="#111" />
<circle cx="205.01" cy="151.69" r="0.76" fill="#111" />
<circle cx="210.90" cy="137.44" r="0.76" fill="#111" />
<circle cx="216.49" cy="151.85" r="0.76" fill="#111" />
<circle cx="213.42" cy="137.06" r="0.76" fill="#111" />
<circle cx="209.21" cy="136.61" r="0.76" fill="#111" />
<circle cx="210.28" cy="153.00" r="0.76" fill="#111" />
<circle cx="207.40" cy="136.41" r="0.76" fill="#111" />
<circle cx="211.73" cy="153.41" r="0.76" fill="#111" />
<circle cx="211.62" cy="135.53" r="0.76" fill="#111" />
<circle cx="213.85" cy="135.30" r="0.76" fill="#111" />
<circle cx="208.61" cy="154.23" r="0.76" fill="#111" />
<circle cx="206.32" cy="134.96" r="0.76" fill="#111" />
<circle cx="208.99" cy="134.62" r="0.76" fill="#111" />
<circle cx="210.20" cy="155.08" r="0.76" fill="#111" />
<circle cx="208.10" cy="156.19" r="0.76" fill="#111" />
<circle cx="211.40" cy="133.27" r="0.76" fill="#111" />
<circle cx="209.91" cy="157.01" r="0.76" fill="#111" />
<circle cx="210.60" cy="131.70" r="0.76" fill="#111" />
<circle cx="212.24" cy="157.99" r="0.76" fill="#111" />
<circle cx="211.91" cy="130.75" r="0.76" fill="#111" />
<circle cx="209.12" cy="158.67" r="0.76" fill="#111" />
<circle cx="211.43" cy="159.82" r="0.76" fill="#111" />
<circle cx="210.57" cy="129.13" r="0.76" fill="#111" />
<circle cx="208.27" cy="127.97" r="0.76" fill="#111" />
<circle cx="210.72" cy="125.78" r="0.76" fill="#111" />
<circle cx="209.99" cy="121.88" r="0.76" fill="#111" />
<circle cx="209.95" cy="117.79" r="0.76" fill="#111" />
<circle cx="210.69" cy="114.15" r="0.76" fill="#111" />
<line x1="66.40" y1="108.80" x2="110.05" y2="108.80" stroke="#606060" stroke-width="1.5"/>
<circle cx="87.08" cy="104.90" r="1.05" fill="#4a4a4a" />
<circle cx="89.77" cy="104.90" r="1.05" fill="#4a4a4a" />
<line x1="167.20" y1="108.80" x2="210.65" y2="108.80" stroke="#606060" stroke-width="1.5"/>
<circle cx="187.78" cy="104.90" r="1.05" fill="#4a4a4a" />
<circle cx="190.47" cy="104.90" r="1.05" fill="#4a4a4a" />
<line x1="66.70" y1="202.00" x2="66.70" y2="210.60" stroke="#555" stroke-width="1.2"/>
<line x1="66.70" y1="220.60" x2="66.70" y2="225.00" stroke="#555" stroke-width="1.2"/>
<rect x="50.50" y="210.60" width="32.40" height="10.00" fill="#787674" />
<line x1="50.50" y1="216.40" x2="82.90" y2="216.40" stroke="#161616" stroke-width="1.0"/>
<line x1="109.75" y1="178.00" x2="109.75" y2="195.40" stroke="#555" stroke-width="1.2"/>
<line x1="109.75" y1="209.60" x2="109.75" y2="227.40" stroke="#555" stroke-width="1.2"/>
<rect x="93.55" y="195.40" width="32.40" height="14.20" fill="#68a5d4" />
<line x1="93.55" y1="203.60" x2="125.95" y2="203.60" stroke="#161616" stroke-width="1.0"/>
<line x1="167.50" y1="195.00" x2="167.50" y2="209.00" stroke="#555" stroke-width="1.2"/>
<line x1="167.50" y1="220.00" x2="167.50" y2="225.00" stroke="#555" stroke-width="1.2"/>
<rect x="151.30" y="209.00" width="32.40" height="11.00" fill="#c6c3c3" />
<line x1="151.30" y1="213.80" x2="183.70" y2="213.80" stroke="#161616" stroke-width="1.0"/>
<line x1="210.35" y1="178.00" x2="210.35" y2="195.40" stroke="#555" stroke-width="1.2"/>
<line x1="210.35" y1="209.60" x2="210.35" y2="227.40" stroke="#555" stroke-width="1.2"/>
<rect x="194.15" y="195.40" width="32.40" height="14.20" fill="#a679a8" />
<line x1="194.15" y1="203.60" x2="226.55" y2="203.60" stroke="#161616" stroke-width="1.0"/>
<circle cx="66.70" cy="203.01" r="0.76" fill="#111" />
<circle cx="64.07" cy="204.68" r="0.76" fill="#111" />
<circle cx="69.60" cy="206.40" r="0.76" fill="#111" />
<circle cx="65.15" cy="208.60" r="0.76" fill="#111" />
<circle cx="68.36" cy="210.13" r="0.76" fill="#111" />
<circle cx="62.30" cy="211.62" r="0.76" fill="#111" />
<circle cx="69.48" cy="212.45" r="0.76" fill="#111" />
<circle cx="65.73" cy="213.74" r="0.76" fill="#111" />
<circle cx="67.72" cy="214.82" r="0.76" fill="#111" />
<circle cx="63.50" cy="216.57" r="0.76" fill="#111" />
<circle cx="72.18" cy="217.33" r="0.76" fill="#111" />
<circle cx="63.91" cy="217.88" r="0.76" fill="#111" />
<circle cx="68.39" cy="219.35" r="0.76" fill="#111" />
<circle cx="61.66" cy="219.75" r="0.76" fill="#111" />
<circle cx="70.53" cy="220.76" r="0.76" fill="#111" />
<circle cx="66.18" cy="221.48" r="0.76" fill="#111" />
<circle cx="67.19" cy="222.50" r="0.76" fill="#111" />
<circle cx="63.60" cy="223.88" r="0.76" fill="#111" />
<circle cx="70.21" cy="224.40" r="0.76" fill="#111" />
<circle cx="66.70" cy="188.00" r="0.76" fill="#111" />
<circle cx="109.74" cy="203.58" r="0.76" fill="#111" />
<circle cx="112.03" cy="203.95" r="0.76" fill="#111" />
<circle cx="107.66" cy="203.18" r="0.76" fill="#111" />
<circle cx="113.84" cy="204.32" r="0.76" fill="#111" />
<circle cx="105.71" cy="203.25" r="0.76" fill="#111" />
<circle cx="114.65" cy="204.74" r="0.76" fill="#111" />
<circle cx="103.99" cy="202.77" r="0.76" fill="#111" />
<circle cx="104.35" cy="204.76" r="0.76" fill="#111" />
<circle cx="108.16" cy="205.10" r="0.76" fill="#111" />
<circle cx="112.68" cy="202.36" r="0.76" fill="#111" />
<circle cx="109.97" cy="205.46" r="0.76" fill="#111" />
<circle cx="110.06" cy="201.58" r="0.76" fill="#111" />
<circle cx="106.56" cy="205.71" r="0.76" fill="#111" />
<circle cx="111.24" cy="206.08" r="0.76" fill="#111" />
<circle cx="107.14" cy="201.57" r="0.76" fill="#111" />
<circle cx="113.56" cy="206.13" r="0.76" fill="#111" />
<circle cx="104.81" cy="201.16" r="0.76" fill="#111" />
<circle cx="115.62" cy="206.86" r="0.76" fill="#111" />
<circle cx="111.30" cy="200.46" r="0.76" fill="#111" />
<circle cx="108.45" cy="207.12" r="0.76" fill="#111" />
<circle cx="107.13" cy="207.36" r="0.76" fill="#111" />
<circle cx="112.90" cy="200.21" r="0.76" fill="#111" />
<circle cx="104.89" cy="207.36" r="0.76" fill="#111" />
<circle cx="108.50" cy="199.85" r="0.76" fill="#111" />
<circle cx="110.31" cy="207.88" r="0.76" fill="#111" />
<circle cx="107.39" cy="199.56" r="0.76" fill="#111" />
<circle cx="112.29" cy="208.15" r="0.76" fill="#111" />
<circle cx="103.00" cy="208.30" r="0.76" fill="#111" />
<circle cx="105.11" cy="199.01" r="0.76" fill="#111" />
<circle cx="114.72" cy="208.74" r="0.76" fill="#111" />
<circle cx="110.78" cy="198.74" r="0.76" fill="#111" />
<circle cx="109.23" cy="209.17" r="0.76" fill="#111" />
<circle cx="108.62" cy="197.97" r="0.76" fill="#111" />
<circle cx="107.17" cy="209.40" r="0.76" fill="#111" />
<circle cx="105.40" cy="209.48" r="0.76" fill="#111" />
<circle cx="106.82" cy="197.61" r="0.76" fill="#111" />
<circle cx="110.30" cy="209.93" r="0.76" fill="#111" />
<circle cx="112.24" cy="197.21" r="0.76" fill="#111" />
<circle cx="112.56" cy="210.16" r="0.76" fill="#111" />
<circle cx="105.36" cy="197.04" r="0.76" fill="#111" />
<circle cx="114.34" cy="210.62" r="0.76" fill="#111" />
<circle cx="109.60" cy="196.36" r="0.76" fill="#111" />
<circle cx="108.91" cy="211.16" r="0.76" fill="#111" />
<circle cx="113.82" cy="196.20" r="0.76" fill="#111" />
<circle cx="106.99" cy="211.51" r="0.76" fill="#111" />
<circle cx="110.38" cy="211.79" r="0.76" fill="#111" />
<circle cx="107.79" cy="196.03" r="0.76" fill="#111" />
<circle cx="105.49" cy="211.94" r="0.76" fill="#111" />
<circle cx="111.83" cy="195.52" r="0.76" fill="#111" />
<circle cx="111.95" cy="212.47" r="0.76" fill="#111" />
<circle cx="114.53" cy="212.84" r="0.76" fill="#111" />
<circle cx="106.37" cy="194.89" r="0.76" fill="#111" />
<circle cx="108.91" cy="213.07" r="0.76" fill="#111" />
<circle cx="109.57" cy="193.95" r="0.76" fill="#111" />
<circle cx="111.49" cy="193.46" r="0.76" fill="#111" />
<circle cx="110.29" cy="214.08" r="0.76" fill="#111" />
<circle cx="108.37" cy="192.66" r="0.76" fill="#111" />
<circle cx="109.19" cy="215.22" r="0.76" fill="#111" />
<circle cx="112.90" cy="192.16" r="0.76" fill="#111" />
<circle cx="109.75" cy="191.27" r="0.76" fill="#111" />
<circle cx="110.69" cy="216.58" r="0.76" fill="#111" />
<circle cx="108.14" cy="190.79" r="0.76" fill="#111" />
<circle cx="108.94" cy="217.38" r="0.76" fill="#111" />
<circle cx="111.58" cy="189.77" r="0.76" fill="#111" />
<circle cx="109.62" cy="188.95" r="0.76" fill="#111" />
<circle cx="110.72" cy="218.46" r="0.76" fill="#111" />
<circle cx="107.89" cy="188.65" r="0.76" fill="#111" />
<circle cx="108.69" cy="219.64" r="0.76" fill="#111" />
<circle cx="111.37" cy="187.67" r="0.76" fill="#111" />
<circle cx="110.08" cy="186.88" r="0.76" fill="#111" />
<circle cx="111.04" cy="221.03" r="0.76" fill="#111" />
<circle cx="108.34" cy="185.72" r="0.76" fill="#111" />
<circle cx="109.41" cy="222.69" r="0.76" fill="#111" />
<circle cx="109.76" cy="184.50" r="0.76" fill="#111" />
<circle cx="111.68" cy="183.59" r="0.76" fill="#111" />
<circle cx="111.14" cy="224.49" r="0.76" fill="#111" />
<circle cx="109.29" cy="182.64" r="0.76" fill="#111" />
<circle cx="111.74" cy="181.51" r="0.76" fill="#111" />
<circle cx="109.19" cy="225.90" r="0.76" fill="#111" />
<circle cx="109.92" cy="180.58" r="0.76" fill="#111" />
<circle cx="107.72" cy="179.37" r="0.76" fill="#111" />
<circle cx="109.78" cy="178.58" r="0.76" fill="#111" />
<circle cx="167.50" cy="196.73" r="0.76" fill="#111" />
<circle cx="165.13" cy="199.06" r="0.76" fill="#111" />
<circle cx="169.98" cy="201.60" r="0.76" fill="#111" />
<circle cx="166.18" cy="204.03" r="0.76" fill="#111" />
<circle cx="169.06" cy="206.73" r="0.76" fill="#111" />
<circle cx="162.75" cy="209.44" r="0.76" fill="#111" />
<circle cx="170.55" cy="209.83" r="0.76" fill="#111" />
<circle cx="166.43" cy="210.74" r="0.76" fill="#111" />
<circle cx="168.60" cy="211.71" r="0.76" fill="#111" />
<circle cx="164.13" cy="212.90" r="0.76" fill="#111" />
<circle cx="173.12" cy="214.06" r="0.76" fill="#111" />
<circle cx="164.71" cy="215.07" r="0.76" fill="#111" />
<circle cx="169.16" cy="216.41" r="0.76" fill="#111" />
<circle cx="162.55" cy="216.99" r="0.76" fill="#111" />
<circle cx="171.35" cy="218.13" r="0.76" fill="#111" />
<circle cx="166.95" cy="219.92" r="0.76" fill="#111" />
<circle cx="168.04" cy="220.57" r="0.76" fill="#111" />
<circle cx="163.82" cy="221.84" r="0.76" fill="#111" />
<circle cx="171.97" cy="222.50" r="0.76" fill="#111" />
<circle cx="166.14" cy="223.31" r="0.76" fill="#111" />
<circle cx="169.51" cy="224.34" r="0.76" fill="#111" />
<circle cx="166.00" cy="180.00" r="0.76" fill="#111" />
<circle cx="210.75" cy="203.55" r="0.76" fill="#111" />
<circle cx="212.04" cy="204.09" r="0.76" fill="#111" />
<circle cx="209.01" cy="203.17" r="0.76" fill="#111" />
<circle cx="207.10" cy="204.32" r="0.76" fill="#111" />
<circle cx="214.41" cy="202.89" r="0.76" fill="#111" />
<circle cx="214.66" cy="204.65" r="0.76" fill="#111" />
<circle cx="216.22" cy="202.76" r="0.76" fill="#111" />
<circle cx="204.57" cy="204.85" r="0.76" fill="#111" />
<circle cx="210.20" cy="205.41" r="0.76" fill="#111" />
<circle cx="211.89" cy="202.04" r="0.76" fill="#111" />
<circle cx="208.21" cy="205.32" r="0.76" fill="#111" />
<circle cx="206.69" cy="201.86" r="0.76" fill="#111" />
<circle cx="212.00" cy="206.02" r="0.76" fill="#111" />
<circle cx="206.75" cy="206.26" r="0.76" fill="#111" />
<circle cx="210.30" cy="201.21" r="0.76" fill="#111" />
<circle cx="213.82" cy="206.27" r="0.76" fill="#111" />
<circle cx="208.92" cy="200.81" r="0.76" fill="#111" />
<circle cx="215.82" cy="206.56" r="0.76" fill="#111" />
<circle cx="213.40" cy="200.43" r="0.76" fill="#111" />
<circle cx="204.52" cy="206.96" r="0.76" fill="#111" />
<circle cx="210.08" cy="207.26" r="0.76" fill="#111" />
<circle cx="207.02" cy="199.93" r="0.76" fill="#111" />
<circle cx="211.93" cy="207.84" r="0.76" fill="#111" />
<circle cx="211.41" cy="199.47" r="0.76" fill="#111" />
<circle cx="208.75" cy="207.88" r="0.76" fill="#111" />
<circle cx="209.30" cy="199.17" r="0.76" fill="#111" />
<circle cx="206.96" cy="208.31" r="0.76" fill="#111" />
<circle cx="213.83" cy="208.32" r="0.76" fill="#111" />
<circle cx="214.02" cy="198.65" r="0.76" fill="#111" />
<circle cx="205.23" cy="208.96" r="0.76" fill="#111" />
<circle cx="207.20" cy="198.37" r="0.76" fill="#111" />
<circle cx="215.94" cy="209.02" r="0.76" fill="#111" />
<circle cx="205.77" cy="198.01" r="0.76" fill="#111" />
<circle cx="210.54" cy="209.67" r="0.76" fill="#111" />
<circle cx="208.50" cy="209.90" r="0.76" fill="#111" />
<circle cx="210.55" cy="197.43" r="0.76" fill="#111" />
<circle cx="211.78" cy="210.10" r="0.76" fill="#111" />
<circle cx="212.46" cy="197.38" r="0.76" fill="#111" />
<circle cx="206.50" cy="210.37" r="0.76" fill="#111" />
<circle cx="208.25" cy="196.61" r="0.76" fill="#111" />
<circle cx="213.69" cy="210.74" r="0.76" fill="#111" />
<circle cx="214.33" cy="196.43" r="0.76" fill="#111" />
<circle cx="215.92" cy="211.01" r="0.76" fill="#111" />
<circle cx="206.54" cy="196.06" r="0.76" fill="#111" />
<circle cx="210.06" cy="211.48" r="0.76" fill="#111" />
<circle cx="210.13" cy="195.39" r="0.76" fill="#111" />
<circle cx="208.16" cy="211.75" r="0.76" fill="#111" />
<circle cx="211.82" cy="212.17" r="0.76" fill="#111" />
<circle cx="212.40" cy="194.83" r="0.76" fill="#111" />
<circle cx="206.74" cy="212.40" r="0.76" fill="#111" />
<circle cx="214.09" cy="212.93" r="0.76" fill="#111" />
<circle cx="208.30" cy="194.40" r="0.76" fill="#111" />
<circle cx="209.99" cy="193.49" r="0.76" fill="#111" />
<circle cx="210.62" cy="213.75" r="0.76" fill="#111" />
<circle cx="213.40" cy="193.08" r="0.76" fill="#111" />
<circle cx="208.88" cy="215.29" r="0.76" fill="#111" />
<circle cx="208.88" cy="192.32" r="0.76" fill="#111" />
<circle cx="210.22" cy="191.40" r="0.76" fill="#111" />
<circle cx="210.22" cy="216.20" r="0.76" fill="#111" />
<circle cx="212.22" cy="190.94" r="0.76" fill="#111" />
<circle cx="208.96" cy="217.33" r="0.76" fill="#111" />
<circle cx="208.21" cy="190.29" r="0.76" fill="#111" />
<circle cx="210.43" cy="189.25" r="0.76" fill="#111" />
<circle cx="210.54" cy="218.15" r="0.76" fill="#111" />
<circle cx="208.14" cy="188.47" r="0.76" fill="#111" />
<circle cx="212.37" cy="219.22" r="0.76" fill="#111" />
<circle cx="211.61" cy="187.65" r="0.76" fill="#111" />
<circle cx="213.06" cy="187.00" r="0.76" fill="#111" />
<circle cx="210.19" cy="220.84" r="0.76" fill="#111" />
<circle cx="210.52" cy="185.78" r="0.76" fill="#111" />
<circle cx="210.75" cy="222.79" r="0.76" fill="#111" />
<circle cx="212.21" cy="184.60" r="0.76" fill="#111" />
<circle cx="210.05" cy="183.65" r="0.76" fill="#111" />
<circle cx="212.62" cy="224.17" r="0.76" fill="#111" />
<circle cx="209.01" cy="182.89" r="0.76" fill="#111" />
<circle cx="210.66" cy="181.71" r="0.76" fill="#111" />
<circle cx="210.53" cy="225.91" r="0.76" fill="#111" />
<circle cx="209.00" cy="180.66" r="0.76" fill="#111" />
<circle cx="210.50" cy="179.55" r="0.76" fill="#111" />
<circle cx="208.08" cy="178.42" r="0.76" fill="#111" />
<line x1="66.40" y1="175.00" x2="110.05" y2="175.00" stroke="#606060" stroke-width="1.5"/>
<circle cx="87.08" cy="171.10" r="1.05" fill="#4a4a4a" />
<circle cx="89.77" cy="171.10" r="1.05" fill="#4a4a4a" />
<line x1="167.20" y1="175.00" x2="210.65" y2="175.00" stroke="#606060" stroke-width="1.5"/>
<circle cx="187.78" cy="171.10" r="1.05" fill="#4a4a4a" />
<circle cx="190.47" cy="171.10" r="1.05" fill="#4a4a4a" />
<line x1="66.70" y1="271.50" x2="66.70" y2="278.00" stroke="#555" stroke-width="1.2"/>
<line x1="66.70" y1="286.60" x2="66.70" y2="290.00" stroke="#555" stroke-width="1.2"/>
<rect x="50.50" y="278.00" width="32.40" height="8.60" fill="#787674" />
<line x1="50.50" y1="282.60" x2="82.90" y2="282.60" stroke="#161616" stroke-width="1.0"/>
<line x1="109.75" y1="255.00" x2="109.75" y2="270.00" stroke="#555" stroke-width="1.2"/>
<line x1="109.75" y1="278.30" x2="109.75" y2="291.00" stroke="#555" stroke-width="1.2"/>
<rect x="93.55" y="270.00" width="32.40" height="8.30" fill="#68a5d4" />
<line x1="93.55" y1="275.00" x2="125.95" y2="275.00" stroke="#161616" stroke-width="1.0"/>
<line x1="167.50" y1="272.00" x2="167.50" y2="278.00" stroke="#555" stroke-width="1.2"/>
<line x1="167.50" y1="284.30" x2="167.50" y2="289.00" stroke="#555" stroke-width="1.2"/>
<rect x="151.30" y="278.00" width="32.40" height="6.30" fill="#c6c3c3" />
<line x1="151.30" y1="280.50" x2="183.70" y2="280.50" stroke="#161616" stroke-width="1.0"/>
<line x1="210.35" y1="255.00" x2="210.35" y2="270.00" stroke="#555" stroke-width="1.2"/>
<line x1="210.35" y1="278.30" x2="210.35" y2="291.00" stroke="#555" stroke-width="1.2"/>
<rect x="194.15" y="270.00" width="32.40" height="8.30" fill="#a679a8" />
<line x1="194.15" y1="274.60" x2="226.55" y2="274.60" stroke="#161616" stroke-width="1.0"/>
<circle cx="66.70" cy="271.90" r="0.76" fill="#111" />
<circle cx="63.92" cy="273.59" r="0.76" fill="#111" />
<circle cx="69.81" cy="274.71" r="0.76" fill="#111" />
<circle cx="65.01" cy="275.72" r="0.76" fill="#111" />
<circle cx="68.50" cy="277.48" r="0.76" fill="#111" />
<circle cx="61.96" cy="278.36" r="0.76" fill="#111" />
<circle cx="69.65" cy="279.44" r="0.76" fill="#111" />
<circle cx="65.68" cy="280.23" r="0.76" fill="#111" />
<circle cx="67.75" cy="281.24" r="0.76" fill="#111" />
<circle cx="63.47" cy="282.19" r="0.76" fill="#111" />
<circle cx="72.20" cy="282.92" r="0.76" fill="#111" />
<circle cx="63.91" cy="283.49" r="0.76" fill="#111" />
<circle cx="68.39" cy="284.34" r="0.76" fill="#111" />
<circle cx="61.65" cy="285.71" r="0.76" fill="#111" />
<circle cx="70.57" cy="286.24" r="0.76" fill="#111" />
<circle cx="66.16" cy="286.63" r="0.76" fill="#111" />
<circle cx="67.21" cy="287.91" r="0.76" fill="#111" />
<circle cx="63.31" cy="288.10" r="0.76" fill="#111" />
<circle cx="70.74" cy="288.66" r="0.76" fill="#111" />
<circle cx="65.48" cy="289.68" r="0.76" fill="#111" />
<circle cx="109.74" cy="274.88" r="0.76" fill="#111" />
<circle cx="107.56" cy="275.19" r="0.76" fill="#111" />
<circle cx="111.46" cy="274.76" r="0.76" fill="#111" />
<circle cx="106.41" cy="275.11" r="0.76" fill="#111" />
<circle cx="113.24" cy="275.30" r="0.76" fill="#111" />
<circle cx="114.89" cy="274.34" r="0.76" fill="#111" />
<circle cx="104.74" cy="275.59" r="0.76" fill="#111" />
<circle cx="102.73" cy="274.32" r="0.76" fill="#111" />
<circle cx="115.65" cy="275.98" r="0.76" fill="#111" />
<circle cx="101.26" cy="276.00" r="0.76" fill="#111" />
<circle cx="104.23" cy="273.77" r="0.76" fill="#111" />
<circle cx="118.22" cy="275.96" r="0.76" fill="#111" />
<circle cx="116.84" cy="273.92" r="0.76" fill="#111" />
<circle cx="110.23" cy="276.49" r="0.76" fill="#111" />
<circle cx="119.73" cy="276.38" r="0.76" fill="#111" />
<circle cx="106.60" cy="273.44" r="0.76" fill="#111" />
<circle cx="100.12" cy="276.45" r="0.76" fill="#111" />
<circle cx="113.13" cy="273.46" r="0.76" fill="#111" />
<circle cx="109.29" cy="276.94" r="0.76" fill="#111" />
<circle cx="107.06" cy="277.05" r="0.76" fill="#111" />
<circle cx="110.70" cy="273.09" r="0.76" fill="#111" />
<circle cx="112.94" cy="277.07" r="0.76" fill="#111" />
<circle cx="108.59" cy="272.77" r="0.76" fill="#111" />
<circle cx="114.20" cy="277.15" r="0.76" fill="#111" />
<circle cx="105.48" cy="277.48" r="0.76" fill="#111" />
<circle cx="101.92" cy="272.56" r="0.76" fill="#111" />
<circle cx="103.11" cy="277.57" r="0.76" fill="#111" />
<circle cx="105.61" cy="272.17" r="0.76" fill="#111" />
<circle cx="115.89" cy="277.84" r="0.76" fill="#111" />
<circle cx="121.36" cy="277.75" r="0.76" fill="#111" />
<circle cx="112.55" cy="271.81" r="0.76" fill="#111" />
<circle cx="117.44" cy="277.97" r="0.76" fill="#111" />
<circle cx="107.36" cy="271.62" r="0.76" fill="#111" />
<circle cx="101.91" cy="278.22" r="0.76" fill="#111" />
<circle cx="114.27" cy="271.68" r="0.76" fill="#111" />
<circle cx="109.38" cy="278.78" r="0.76" fill="#111" />
<circle cx="109.73" cy="271.05" r="0.76" fill="#111" />
<circle cx="112.04" cy="278.99" r="0.76" fill="#111" />
<circle cx="103.13" cy="270.91" r="0.76" fill="#111" />
<circle cx="116.33" cy="271.02" r="0.76" fill="#111" />
<circle cx="108.09" cy="279.14" r="0.76" fill="#111" />
<circle cx="118.21" cy="270.48" r="0.76" fill="#111" />
<circle cx="106.28" cy="279.40" r="0.76" fill="#111" />
<circle cx="111.48" cy="270.17" r="0.76" fill="#111" />
<circle cx="108.09" cy="269.93" r="0.76" fill="#111" />
<circle cx="113.71" cy="279.87" r="0.76" fill="#111" />
<circle cx="115.54" cy="280.51" r="0.76" fill="#111" />
<circle cx="106.53" cy="269.44" r="0.76" fill="#111" />
<circle cx="104.84" cy="280.53" r="0.76" fill="#111" />
<circle cx="109.27" cy="268.98" r="0.76" fill="#111" />
<circle cx="110.22" cy="280.83" r="0.76" fill="#111" />
<circle cx="111.79" cy="281.13" r="0.76" fill="#111" />
<circle cx="111.14" cy="268.36" r="0.76" fill="#111" />
<circle cx="108.33" cy="281.65" r="0.76" fill="#111" />
<circle cx="112.89" cy="268.28" r="0.76" fill="#111" />
<circle cx="113.84" cy="282.17" r="0.76" fill="#111" />
<circle cx="107.94" cy="267.43" r="0.76" fill="#111" />
<circle cx="109.68" cy="282.76" r="0.76" fill="#111" />
<circle cx="109.94" cy="266.84" r="0.76" fill="#111" />
<circle cx="111.16" cy="266.30" r="0.76" fill="#111" />
<circle cx="107.80" cy="283.64" r="0.76" fill="#111" />
<circle cx="106.82" cy="265.81" r="0.76" fill="#111" />
<circle cx="110.22" cy="284.32" r="0.76" fill="#111" />
<circle cx="108.76" cy="265.20" r="0.76" fill="#111" />
<circle cx="113.39" cy="264.94" r="0.76" fill="#111" />
<circle cx="109.33" cy="285.28" r="0.76" fill="#111" />
<circle cx="110.55" cy="264.43" r="0.76" fill="#111" />
<circle cx="111.44" cy="285.94" r="0.76" fill="#111" />
<circle cx="106.56" cy="286.74" r="0.76" fill="#111" />
<circle cx="108.60" cy="263.16" r="0.76" fill="#111" />
<circle cx="109.63" cy="287.97" r="0.76" fill="#111" />
<circle cx="110.27" cy="261.83" r="0.76" fill="#111" />
<circle cx="107.50" cy="289.32" r="0.76" fill="#111" />
<circle cx="109.00" cy="260.91" r="0.76" fill="#111" />
<circle cx="111.12" cy="259.69" r="0.76" fill="#111" />
<circle cx="110.00" cy="290.13" r="0.76" fill="#111" />
<circle cx="108.94" cy="258.69" r="0.76" fill="#111" />
<circle cx="109.48" cy="256.62" r="0.76" fill="#111" />
<circle cx="109.99" cy="253.47" r="0.76" fill="#111" />
<circle cx="109.96" cy="250.38" r="0.76" fill="#111" />
<circle cx="109.78" cy="247.43" r="0.76" fill="#111" />
<circle cx="109.75" cy="294.30" r="0.76" fill="#111" />
<circle cx="167.50" cy="272.69" r="0.76" fill="#111" />
<circle cx="164.69" cy="273.94" r="0.76" fill="#111" />
<circle cx="170.73" cy="274.86" r="0.76" fill="#111" />
<circle cx="165.68" cy="276.30" r="0.76" fill="#111" />
<circle cx="169.51" cy="277.43" r="0.76" fill="#111" />
<circle cx="162.21" cy="278.03" r="0.76" fill="#111" />
<circle cx="170.75" cy="278.84" r="0.76" fill="#111" />
<circle cx="166.40" cy="279.06" r="0.76" fill="#111" />
<circle cx="168.62" cy="280.08" r="0.76" fill="#111" />
<circle cx="164.13" cy="280.23" r="0.76" fill="#111" />
<circle cx="173.12" cy="281.06" r="0.76" fill="#111" />
<circle cx="164.72" cy="281.66" r="0.76" fill="#111" />
<circle cx="169.13" cy="282.38" r="0.76" fill="#111" />
<circle cx="162.74" cy="282.94" r="0.76" fill="#111" />
<circle cx="171.06" cy="283.63" r="0.76" fill="#111" />
<circle cx="167.02" cy="285.11" r="0.76" fill="#111" />
<circle cx="167.95" cy="285.73" r="0.76" fill="#111" />
<circle cx="164.60" cy="286.67" r="0.76" fill="#111" />
<circle cx="170.86" cy="287.61" r="0.76" fill="#111" />
<circle cx="166.51" cy="288.78" r="0.76" fill="#111" />
<circle cx="165.90" cy="260.80" r="0.76" fill="#111" />
<circle cx="168.30" cy="265.50" r="0.76" fill="#111" />
<circle cx="210.02" cy="274.47" r="0.76" fill="#111" />
<circle cx="208.88" cy="274.95" r="0.76" fill="#111" />
<circle cx="212.03" cy="274.56" r="0.76" fill="#111" />
<circle cx="213.55" cy="275.14" r="0.76" fill="#111" />
<circle cx="206.65" cy="274.06" r="0.76" fill="#111" />
<circle cx="215.93" cy="275.41" r="0.76" fill="#111" />
<circle cx="204.65" cy="273.83" r="0.76" fill="#111" />
<circle cx="217.69" cy="275.38" r="0.76" fill="#111" />
<circle cx="203.36" cy="273.85" r="0.76" fill="#111" />
<circle cx="203.74" cy="275.43" r="0.76" fill="#111" />
<circle cx="206.32" cy="275.96" r="0.76" fill="#111" />
<circle cx="214.38" cy="273.56" r="0.76" fill="#111" />
<circle cx="202.57" cy="275.96" r="0.76" fill="#111" />
<circle cx="216.27" cy="273.29" r="0.76" fill="#111" />
<circle cx="218.90" cy="275.96" r="0.76" fill="#111" />
<circle cx="209.05" cy="273.07" r="0.76" fill="#111" />
<circle cx="210.72" cy="276.44" r="0.76" fill="#111" />
<circle cx="210.18" cy="272.56" r="0.76" fill="#111" />
<circle cx="211.92" cy="276.48" r="0.76" fill="#111" />
<circle cx="200.21" cy="276.54" r="0.76" fill="#111" />
<circle cx="212.02" cy="272.35" r="0.76" fill="#111" />
<circle cx="208.42" cy="276.83" r="0.76" fill="#111" />
<circle cx="218.22" cy="272.42" r="0.76" fill="#111" />
<circle cx="213.90" cy="277.18" r="0.76" fill="#111" />
<circle cx="206.89" cy="272.26" r="0.76" fill="#111" />
<circle cx="205.25" cy="277.00" r="0.76" fill="#111" />
<circle cx="214.29" cy="271.80" r="0.76" fill="#111" />
<circle cx="215.66" cy="277.23" r="0.76" fill="#111" />
<circle cx="202.94" cy="277.68" r="0.76" fill="#111" />
<circle cx="216.09" cy="271.44" r="0.76" fill="#111" />
<circle cx="217.14" cy="277.61" r="0.76" fill="#111" />
<circle cx="205.37" cy="271.32" r="0.76" fill="#111" />
<circle cx="211.28" cy="278.22" r="0.76" fill="#111" />
<circle cx="208.55" cy="271.00" r="0.76" fill="#111" />
<circle cx="206.79" cy="278.37" r="0.76" fill="#111" />
<circle cx="209.99" cy="270.67" r="0.76" fill="#111" />
<circle cx="200.90" cy="278.28" r="0.76" fill="#111" />
<circle cx="202.75" cy="270.56" r="0.76" fill="#111" />
<circle cx="209.55" cy="278.78" r="0.76" fill="#111" />
<circle cx="211.75" cy="270.39" r="0.76" fill="#111" />
<circle cx="206.91" cy="270.25" r="0.76" fill="#111" />
<circle cx="213.39" cy="278.94" r="0.76" fill="#111" />
<circle cx="217.52" cy="270.05" r="0.76" fill="#111" />
<circle cx="214.55" cy="279.30" r="0.76" fill="#111" />
<circle cx="204.94" cy="279.64" r="0.76" fill="#111" />
<circle cx="213.60" cy="269.48" r="0.76" fill="#111" />
<circle cx="211.14" cy="280.07" r="0.76" fill="#111" />
<circle cx="210.14" cy="268.80" r="0.76" fill="#111" />
<circle cx="209.53" cy="280.75" r="0.76" fill="#111" />
<circle cx="207.21" cy="280.78" r="0.76" fill="#111" />
<circle cx="208.09" cy="268.13" r="0.76" fill="#111" />
<circle cx="213.36" cy="281.33" r="0.76" fill="#111" />
<circle cx="212.59" cy="267.70" r="0.76" fill="#111" />
<circle cx="205.50" cy="281.59" r="0.76" fill="#111" />
<circle cx="210.95" cy="281.91" r="0.76" fill="#111" />
<circle cx="206.73" cy="267.05" r="0.76" fill="#111" />
<circle cx="210.63" cy="266.65" r="0.76" fill="#111" />
<circle cx="209.59" cy="282.98" r="0.76" fill="#111" />
<circle cx="208.84" cy="265.97" r="0.76" fill="#111" />
<circle cx="213.52" cy="283.36" r="0.76" fill="#111" />
<circle cx="212.48" cy="265.67" r="0.76" fill="#111" />
<circle cx="214.04" cy="265.26" r="0.76" fill="#111" />
<circle cx="211.53" cy="284.33" r="0.76" fill="#111" />
<circle cx="210.15" cy="264.70" r="0.76" fill="#111" />
<circle cx="209.90" cy="285.38" r="0.76" fill="#111" />
<circle cx="208.30" cy="263.16" r="0.76" fill="#111" />
<circle cx="212.11" cy="286.11" r="0.76" fill="#111" />
<circle cx="207.86" cy="286.60" r="0.76" fill="#111" />
<circle cx="210.63" cy="262.12" r="0.76" fill="#111" />
<circle cx="210.53" cy="287.98" r="0.76" fill="#111" />
<circle cx="211.74" cy="261.22" r="0.76" fill="#111" />
<circle cx="212.24" cy="289.18" r="0.76" fill="#111" />
<circle cx="210.64" cy="259.99" r="0.76" fill="#111" />
<circle cx="210.34" cy="290.12" r="0.76" fill="#111" />
<circle cx="211.56" cy="258.40" r="0.76" fill="#111" />
<circle cx="210.45" cy="256.59" r="0.76" fill="#111" />
<circle cx="210.19" cy="253.57" r="0.76" fill="#111" />
<circle cx="210.20" cy="250.41" r="0.76" fill="#111" />
<circle cx="210.47" cy="247.69" r="0.76" fill="#111" />
<circle cx="210.35" cy="294.30" r="0.76" fill="#111" />
<line x1="66.40" y1="242.60" x2="110.05" y2="242.60" stroke="#606060" stroke-width="1.5"/>
<circle cx="88.42" cy="238.70" r="1.05" fill="#4a4a4a" />
<line x1="167.20" y1="242.60" x2="210.65" y2="242.60" stroke="#606060" stroke-width="1.5"/>
<circle cx="189.12" cy="238.70" r="1.05" fill="#4a4a4a" />
<rect x="40.75" y="330.20" width="94.95" height="11.55" fill="#c6c3c2" />
<rect x="142.00" y="330.20" width="94.00" height="11.55" fill="#c6c3c2" />
<text x="88.45" y="338.60" font-size="7.4" text-anchor="middle" fill="#363636" textLength="38.60" lengthAdjust="spacingAndGlyphs">Clinical variant</text>
<text x="189.00" y="338.60" font-size="7.4" text-anchor="middle" fill="#363636" textLength="27.40" lengthAdjust="spacingAndGlyphs">EBV status</text>
<rect x="41.20" y="341.75" width="94.50" height="68.25" fill="#f2f1f0" />
<rect x="142.00" y="341.75" width="94.00" height="68.25" fill="#f2f1f0" />
<rect x="236.10" y="341.90" width="18.50" height="68.10" fill="#c6c3c2" />
<line x1="41.25" y1="341.40" x2="41.25" y2="410.00" stroke="#404040" stroke-width="1.6"/>
<line x1="40.45" y1="410.00" x2="135.70" y2="410.00" stroke="#404040" stroke-width="1.6"/>
<line x1="142.00" y1="410.00" x2="236.00" y2="410.00" stroke="#404040" stroke-width="1.6"/>
<line x1="66.70" y1="410.60" x2="66.70" y2="413.00" stroke="#2e2e2e" stroke-width="1.0"/>
<line x1="109.75" y1="410.60" x2="109.75" y2="413.00" stroke="#2e2e2e" stroke-width="1.0"/>
<line x1="167.50" y1="410.60" x2="167.50" y2="413.00" stroke="#2e2e2e" stroke-width="1.0"/>
<line x1="210.35" y1="410.60" x2="210.35" y2="413.00" stroke="#2e2e2e" stroke-width="1.0"/>
<text x="66.70" y="421.80" font-size="6.9" text-anchor="middle" fill="#363636" textLength="30.80" lengthAdjust="spacingAndGlyphs">Sporadic BL</text>
<text x="109.75" y="421.80" font-size="6.9" text-anchor="middle" fill="#363636" textLength="29.80" lengthAdjust="spacingAndGlyphs">Endemic BL</text>
<text x="167.50" y="421.80" font-size="6.9" text-anchor="middle" fill="#363636" textLength="36.50" lengthAdjust="spacingAndGlyphs">EBV−negative</text>
<text x="210.35" y="421.80" font-size="6.9" text-anchor="middle" fill="#363636" textLength="34.50" lengthAdjust="spacingAndGlyphs">EBV−positive</text>
<line x1="38.10" y1="350.00" x2="41.00" y2="350.00" stroke="#2e2e2e" stroke-width="1.0"/>
<text x="35.30" y="352.25" font-size="6.6" text-anchor="end" fill="#363636" textLength="6.50" lengthAdjust="spacingAndGlyphs">20</text>
<line x1="38.10" y1="364.20" x2="41.00" y2="364.20" stroke="#2e2e2e" stroke-width="1.0"/>
<text x="35.30" y="366.45" font-size="6.6" text-anchor="end" fill="#363636" textLength="6.50" lengthAdjust="spacingAndGlyphs">15</text>
<line x1="38.10" y1="378.40" x2="41.00" y2="378.40" stroke="#2e2e2e" stroke-width="1.0"/>
<text x="35.30" y="380.65" font-size="6.6" text-anchor="end" fill="#363636" textLength="6.50" lengthAdjust="spacingAndGlyphs">10</text>
<line x1="38.10" y1="392.60" x2="41.00" y2="392.60" stroke="#2e2e2e" stroke-width="1.0"/>
<text x="35.30" y="394.85" font-size="6.6" text-anchor="end" fill="#363636" textLength="3.25" lengthAdjust="spacingAndGlyphs">5</text>
<line x1="38.10" y1="406.80" x2="41.00" y2="406.80" stroke="#2e2e2e" stroke-width="1.0"/>
<text x="35.30" y="409.05" font-size="6.6" text-anchor="end" fill="#363636" textLength="3.25" lengthAdjust="spacingAndGlyphs">0</text>
<text transform="translate(22.90,376.00) rotate(-90)" font-size="8.0" text-anchor="middle" fill="#363636" textLength="37.00" lengthAdjust="spacingAndGlyphs">Frequency</text>
<text transform="translate(247.40,375.40) rotate(90)" font-size="7.0" text-anchor="middle" fill="#363636" textLength="26.50" lengthAdjust="spacingAndGlyphs">Number of</text>
<text transform="translate(239.60,375.40) rotate(90)" font-size="7.0" text-anchor="middle" fill="#363636" textLength="35.50" lengthAdjust="spacingAndGlyphs">mutated BLGs</text>
<line x1="66.70" y1="367.19" x2="66.70" y2="375.71" stroke="#555" stroke-width="1.2"/>
<line x1="66.70" y1="387.07" x2="66.70" y2="401.27" stroke="#555" stroke-width="1.2"/>
<rect x="50.50" y="375.71" width="32.40" height="11.36" fill="#787674" />
<line x1="50.50" y1="381.39" x2="82.90" y2="381.39" stroke="#161616" stroke-width="1.0"/>
<line x1="109.75" y1="364.35" x2="109.75" y2="378.55" stroke="#555" stroke-width="1.2"/>
<line x1="109.75" y1="389.91" x2="109.75" y2="406.95" stroke="#555" stroke-width="1.2"/>
<rect x="93.55" y="378.55" width="32.40" height="11.36" fill="#68a5d4" />
<line x1="93.55" y1="384.23" x2="125.95" y2="384.23" stroke="#161616" stroke-width="1.0"/>
<line x1="167.50" y1="364.35" x2="167.50" y2="372.87" stroke="#555" stroke-width="1.2"/>
<line x1="167.50" y1="384.23" x2="167.50" y2="395.59" stroke="#555" stroke-width="1.2"/>
<rect x="151.30" y="372.87" width="32.40" height="11.36" fill="#c6c3c3" />
<line x1="151.30" y1="378.27" x2="183.70" y2="378.27" stroke="#161616" stroke-width="1.0"/>
<line x1="210.35" y1="367.19" x2="210.35" y2="379.26" stroke="#555" stroke-width="1.2"/>
<line x1="210.35" y1="392.75" x2="210.35" y2="406.95" stroke="#555" stroke-width="1.2"/>
<rect x="194.15" y="379.26" width="32.40" height="13.49" fill="#a679a8" />
<line x1="194.15" y1="384.23" x2="226.55" y2="384.23" stroke="#161616" stroke-width="1.0"/>
<circle cx="66.70" cy="353.00" r="1.8" fill="#000" />
<circle cx="167.50" cy="352.90" r="1.8" fill="#000" />
<circle cx="66.70" cy="381.39" r="1.4" fill="#e2421f" stroke="#3a0e08" stroke-width="0.6"/>
<circle cx="66.70" cy="392.75" r="1.4" fill="#e2421f" stroke="#3a0e08" stroke-width="0.6"/>
<circle cx="66.70" cy="401.27" r="1.4" fill="#e2421f" stroke="#3a0e08" stroke-width="0.6"/>
<circle cx="109.75" cy="364.35" r="1.4" fill="#e2421f" stroke="#3a0e08" stroke-width="0.6"/>
<circle cx="109.75" cy="370.03" r="1.4" fill="#e2421f" stroke="#3a0e08" stroke-width="0.6"/>
<circle cx="109.75" cy="372.87" r="1.4" fill="#e2421f" stroke="#3a0e08" stroke-width="0.6"/>
<circle cx="109.75" cy="378.55" r="1.4" fill="#e2421f" stroke="#3a0e08" stroke-width="0.6"/>
<circle cx="109.75" cy="381.39" r="1.4" fill="#e2421f" stroke="#3a0e08" stroke-width="0.6"/>
<circle cx="109.75" cy="384.23" r="1.4" fill="#e2421f" stroke="#3a0e08" stroke-width="0.6"/>
<circle cx="109.75" cy="395.59" r="1.4" fill="#e2421f" stroke="#3a0e08" stroke-width="0.6"/>
<circle cx="167.50" cy="364.35" r="1.4" fill="#e2421f" stroke="#3a0e08" stroke-width="0.6"/>
<circle cx="167.50" cy="370.03" r="1.4" fill="#e2421f" stroke="#3a0e08" stroke-width="0.6"/>
<circle cx="167.50" cy="372.87" r="1.4" fill="#e2421f" stroke="#3a0e08" stroke-width="0.6"/>
<circle cx="167.50" cy="378.55" r="1.4" fill="#e2421f" stroke="#3a0e08" stroke-width="0.6"/>
<circle cx="167.50" cy="381.39" r="1.4" fill="#e2421f" stroke="#3a0e08" stroke-width="0.6"/>
<circle cx="167.50" cy="384.23" r="1.4" fill="#e2421f" stroke="#3a0e08" stroke-width="0.6"/>
<circle cx="167.50" cy="395.59" r="1.4" fill="#e2421f" stroke="#3a0e08" stroke-width="0.6"/>
<circle cx="210.35" cy="381.39" r="1.4" fill="#e2421f" stroke="#3a0e08" stroke-width="0.6"/>
<circle cx="210.35" cy="392.75" r="1.4" fill="#e2421f" stroke="#3a0e08" stroke-width="0.6"/>
<circle cx="210.35" cy="401.27" r="1.4" fill="#e2421f" stroke="#3a0e08" stroke-width="0.6"/>
<line x1="167.20" y1="348.60" x2="210.65" y2="348.60" stroke="#606060" stroke-width="1.5"/>
<circle cx="187.78" cy="344.70" r="1.05" fill="#4a4a4a" />
<circle cx="190.47" cy="344.70" r="1.05" fill="#4a4a4a" />
<rect x="306.90" y="24.10" width="93.90" height="10.90" fill="#c6c3c2" />
<rect x="407.00" y="24.10" width="94.30" height="10.90" fill="#c6c3c2" />
<text x="353.90" y="32.10" font-size="7.4" text-anchor="middle" fill="#363636" textLength="38.60" lengthAdjust="spacingAndGlyphs">Clinical variant</text>
<text x="454.15" y="32.10" font-size="7.4" text-anchor="middle" fill="#363636" textLength="27.40" lengthAdjust="spacingAndGlyphs">EBV status</text>
<text x="399.20" y="19.40" font-size="6.7" text-anchor="middle" fill="#363636" textLength="58.40" lengthAdjust="spacingAndGlyphs">Mutational signatures</text>
<text x="274.80" y="15.60" font-size="11.5" text-anchor="start" fill="#363636" textLength="6.80" lengthAdjust="spacingAndGlyphs">C</text>
<rect x="307.00" y="35.00" width="93.80" height="84.85" fill="#f2f1f0" />
<rect x="407.00" y="35.00" width="94.30" height="84.85" fill="#f2f1f0" />
<rect x="501.80" y="35.00" width="10.90" height="84.85" fill="#c6c3c2" />
<line x1="306.70" y1="34.80" x2="306.70" y2="119.85" stroke="#404040" stroke-width="1.6"/>
<rect x="307.00" y="132.50" width="93.80" height="85.30" fill="#f2f1f0" />
<rect x="407.00" y="132.50" width="94.30" height="85.30" fill="#f2f1f0" />
<rect x="501.80" y="132.50" width="10.90" height="85.30" fill="#c6c3c2" />
<line x1="306.70" y1="132.30" x2="306.70" y2="217.80" stroke="#404040" stroke-width="1.6"/>
<rect x="307.00" y="229.00" width="93.80" height="84.85" fill="#f2f1f0" />
<rect x="407.00" y="229.00" width="94.30" height="84.85" fill="#f2f1f0" />
<rect x="501.80" y="229.00" width="10.90" height="84.85" fill="#c6c3c2" />
<line x1="306.70" y1="228.80" x2="306.70" y2="313.85" stroke="#404040" stroke-width="1.6"/>
<rect x="307.00" y="324.90" width="93.80" height="85.10" fill="#f2f1f0" />
<rect x="407.00" y="324.90" width="94.30" height="85.10" fill="#f2f1f0" />
<rect x="501.80" y="324.90" width="10.90" height="85.10" fill="#c6c3c2" />
<line x1="306.70" y1="324.70" x2="306.70" y2="410.00" stroke="#404040" stroke-width="1.6"/>
<line x1="305.80" y1="410.00" x2="400.80" y2="410.00" stroke="#404040" stroke-width="1.6"/>
<line x1="407.00" y1="410.00" x2="501.30" y2="410.00" stroke="#404040" stroke-width="1.6"/>
<line x1="332.50" y1="410.50" x2="332.50" y2="413.10" stroke="#2e2e2e" stroke-width="1.0"/>
<line x1="375.50" y1="410.50" x2="375.50" y2="413.10" stroke="#2e2e2e" stroke-width="1.0"/>
<line x1="432.80" y1="410.50" x2="432.80" y2="413.10" stroke="#2e2e2e" stroke-width="1.0"/>
<line x1="475.70" y1="410.50" x2="475.70" y2="413.10" stroke="#2e2e2e" stroke-width="1.0"/>
<text x="332.50" y="421.80" font-size="6.9" text-anchor="middle" fill="#363636" textLength="30.80" lengthAdjust="spacingAndGlyphs">Sporadic BL</text>
<text x="375.50" y="421.80" font-size="6.9" text-anchor="middle" fill="#363636" textLength="29.80" lengthAdjust="spacingAndGlyphs">Endemic BL</text>
<text x="432.80" y="421.80" font-size="6.9" text-anchor="middle" fill="#363636" textLength="36.50" lengthAdjust="spacingAndGlyphs">EBV−negative</text>
<text x="475.70" y="421.80" font-size="6.9" text-anchor="middle" fill="#363636" textLength="34.50" lengthAdjust="spacingAndGlyphs">EBV−positive</text>
<line x1="303.00" y1="61.60" x2="306.20" y2="61.60" stroke="#2e2e2e" stroke-width="1.0"/>
<text x="300.90" y="63.85" font-size="6.6" text-anchor="end" fill="#363636" textLength="13.00" lengthAdjust="spacingAndGlyphs">4000</text>
<line x1="303.00" y1="90.00" x2="306.20" y2="90.00" stroke="#2e2e2e" stroke-width="1.0"/>
<text x="300.90" y="92.25" font-size="6.6" text-anchor="end" fill="#363636" textLength="13.00" lengthAdjust="spacingAndGlyphs">2000</text>
<line x1="303.00" y1="118.20" x2="306.20" y2="118.20" stroke="#2e2e2e" stroke-width="1.0"/>
<text x="300.90" y="120.45" font-size="6.6" text-anchor="end" fill="#363636" textLength="3.25" lengthAdjust="spacingAndGlyphs">0</text>
<line x1="303.00" y1="152.40" x2="306.20" y2="152.40" stroke="#2e2e2e" stroke-width="1.0"/>
<text x="300.90" y="154.65" font-size="6.6" text-anchor="end" fill="#363636" textLength="13.00" lengthAdjust="spacingAndGlyphs">7500</text>
<line x1="303.00" y1="173.00" x2="306.20" y2="173.00" stroke="#2e2e2e" stroke-width="1.0"/>
<text x="300.90" y="175.25" font-size="6.6" text-anchor="end" fill="#363636" textLength="13.00" lengthAdjust="spacingAndGlyphs">5000</text>
<line x1="303.00" y1="193.70" x2="306.20" y2="193.70" stroke="#2e2e2e" stroke-width="1.0"/>
<text x="300.90" y="195.95" font-size="6.6" text-anchor="end" fill="#363636" textLength="13.00" lengthAdjust="spacingAndGlyphs">2500</text>
<line x1="303.00" y1="214.40" x2="306.20" y2="214.40" stroke="#2e2e2e" stroke-width="1.0"/>
<text x="300.90" y="216.65" font-size="6.6" text-anchor="end" fill="#363636" textLength="3.25" lengthAdjust="spacingAndGlyphs">0</text>
<line x1="303.00" y1="245.40" x2="306.20" y2="245.40" stroke="#2e2e2e" stroke-width="1.0"/>
<text x="300.90" y="247.65" font-size="6.6" text-anchor="end" fill="#363636" textLength="13.00" lengthAdjust="spacingAndGlyphs">3000</text>
<line x1="303.00" y1="267.00" x2="306.20" y2="267.00" stroke="#2e2e2e" stroke-width="1.0"/>
<text x="300.90" y="269.25" font-size="6.6" text-anchor="end" fill="#363636" textLength="13.00" lengthAdjust="spacingAndGlyphs">2000</text>
<line x1="303.00" y1="288.70" x2="306.20" y2="288.70" stroke="#2e2e2e" stroke-width="1.0"/>
<text x="300.90" y="290.95" font-size="6.6" text-anchor="end" fill="#363636" textLength="13.00" lengthAdjust="spacingAndGlyphs">1000</text>
<line x1="303.00" y1="310.60" x2="306.20" y2="310.60" stroke="#2e2e2e" stroke-width="1.0"/>
<text x="300.90" y="312.85" font-size="6.6" text-anchor="end" fill="#363636" textLength="3.25" lengthAdjust="spacingAndGlyphs">0</text>
<line x1="303.00" y1="341.60" x2="306.20" y2="341.60" stroke="#2e2e2e" stroke-width="1.0"/>
<text x="300.90" y="343.85" font-size="6.6" text-anchor="end" fill="#363636" textLength="13.00" lengthAdjust="spacingAndGlyphs">6000</text>
<line x1="303.00" y1="364.00" x2="306.20" y2="364.00" stroke="#2e2e2e" stroke-width="1.0"/>
<text x="300.90" y="366.25" font-size="6.6" text-anchor="end" fill="#363636" textLength="13.00" lengthAdjust="spacingAndGlyphs">4000</text>
<line x1="303.00" y1="386.30" x2="306.20" y2="386.30" stroke="#2e2e2e" stroke-width="1.0"/>
<text x="300.90" y="388.55" font-size="6.6" text-anchor="end" fill="#363636" textLength="13.00" lengthAdjust="spacingAndGlyphs">2000</text>
<line x1="303.00" y1="408.40" x2="306.20" y2="408.40" stroke="#2e2e2e" stroke-width="1.0"/>
<text x="300.90" y="410.65" font-size="6.6" text-anchor="end" fill="#363636" textLength="3.25" lengthAdjust="spacingAndGlyphs">0</text>
<text transform="translate(282.20,222.50) rotate(-90)" font-size="8.2" text-anchor="middle" fill="#363636" textLength="161.00" lengthAdjust="spacingAndGlyphs">Estimated number of mutations per signature</text>
<text transform="translate(504.60,77.83) rotate(90)" font-size="7.0" text-anchor="middle" fill="#363636" textLength="64.00" lengthAdjust="spacingAndGlyphs">BL sig. A (COSMIC sig. 5)</text>
<text transform="translate(504.60,175.55) rotate(90)" font-size="7.0" text-anchor="middle" fill="#363636" textLength="66.50" lengthAdjust="spacingAndGlyphs">BL sig. B (COSMIC sig. 17)</text>
<text transform="translate(504.60,271.82) rotate(90)" font-size="7.0" text-anchor="middle" fill="#363636" textLength="66.50" lengthAdjust="spacingAndGlyphs">BL sig. C (COSMIC sig. 15)</text>
<text transform="translate(504.60,367.85) rotate(90)" font-size="7.0" text-anchor="middle" fill="#363636" textLength="64.00" lengthAdjust="spacingAndGlyphs">BL sig. D (COSMIC sig. 9)</text>
<line x1="332.50" y1="88.50" x2="332.50" y2="91.60" stroke="#555" stroke-width="1.2"/>
<line x1="332.50" y1="98.00" x2="332.50" y2="106.60" stroke="#555" stroke-width="1.2"/>
<rect x="316.30" y="91.60" width="32.40" height="6.40" fill="#787674" />
<line x1="316.30" y1="96.40" x2="348.70" y2="96.40" stroke="#161616" stroke-width="1.0"/>
<line x1="375.50" y1="69.50" x2="375.50" y2="87.80" stroke="#555" stroke-width="1.2"/>
<line x1="375.50" y1="100.90" x2="375.50" y2="115.00" stroke="#555" stroke-width="1.2"/>
<rect x="359.30" y="87.80" width="32.40" height="13.10" fill="#68a5d4" />
<line x1="359.30" y1="93.90" x2="391.70" y2="93.90" stroke="#161616" stroke-width="1.0"/>
<line x1="432.80" y1="72.50" x2="432.80" y2="87.50" stroke="#555" stroke-width="1.2"/>
<line x1="432.80" y1="96.30" x2="432.80" y2="104.00" stroke="#555" stroke-width="1.2"/>
<rect x="416.60" y="87.50" width="32.40" height="8.80" fill="#c6c3c3" />
<line x1="416.60" y1="91.80" x2="449.00" y2="91.80" stroke="#161616" stroke-width="1.0"/>
<line x1="475.70" y1="69.50" x2="475.70" y2="88.40" stroke="#555" stroke-width="1.2"/>
<line x1="475.70" y1="101.60" x2="475.70" y2="115.00" stroke="#555" stroke-width="1.2"/>
<rect x="459.50" y="88.40" width="32.40" height="13.20" fill="#a679a8" />
<line x1="459.50" y1="95.20" x2="491.90" y2="95.20" stroke="#161616" stroke-width="1.0"/>
<circle cx="332.50" cy="86.39" r="0.76" fill="#111" />
<circle cx="329.51" cy="87.34" r="0.76" fill="#111" />
<circle cx="335.81" cy="88.59" r="0.76" fill="#111" />
<circle cx="330.71" cy="90.05" r="0.76" fill="#111" />
<circle cx="334.40" cy="90.95" r="0.76" fill="#111" />
<circle cx="327.48" cy="92.20" r="0.76" fill="#111" />
<circle cx="335.67" cy="93.38" r="0.76" fill="#111" />
<circle cx="331.40" cy="93.90" r="0.76" fill="#111" />
<circle cx="333.62" cy="95.41" r="0.76" fill="#111" />
<circle cx="329.13" cy="95.63" r="0.76" fill="#111" />
<circle cx="338.08" cy="96.66" r="0.76" fill="#111" />
<circle cx="329.75" cy="96.55" r="0.76" fill="#111" />
<circle cx="334.12" cy="97.02" r="0.76" fill="#111" />
<circle cx="327.73" cy="97.97" r="0.76" fill="#111" />
<circle cx="335.68" cy="99.36" r="0.76" fill="#111" />
<circle cx="332.12" cy="101.11" r="0.76" fill="#111" />
<circle cx="332.82" cy="103.51" r="0.76" fill="#111" />
<circle cx="330.65" cy="105.15" r="0.76" fill="#111" />
<circle cx="329.50" cy="74.00" r="0.76" fill="#111" />
<circle cx="332.60" cy="73.20" r="0.76" fill="#111" />
<circle cx="375.39" cy="93.97" r="0.76" fill="#111" />
<circle cx="374.19" cy="93.45" r="0.76" fill="#111" />
<circle cx="377.33" cy="93.97" r="0.76" fill="#111" />
<circle cx="371.65" cy="92.89" r="0.76" fill="#111" />
<circle cx="378.98" cy="94.40" r="0.76" fill="#111" />
<circle cx="369.96" cy="93.05" r="0.76" fill="#111" />
<circle cx="372.31" cy="94.91" r="0.76" fill="#111" />
<circle cx="379.28" cy="92.53" r="0.76" fill="#111" />
<circle cx="380.73" cy="95.20" r="0.76" fill="#111" />
<circle cx="375.95" cy="92.05" r="0.76" fill="#111" />
<circle cx="376.49" cy="95.72" r="0.76" fill="#111" />
<circle cx="377.55" cy="91.96" r="0.76" fill="#111" />
<circle cx="374.86" cy="95.95" r="0.76" fill="#111" />
<circle cx="374.18" cy="91.51" r="0.76" fill="#111" />
<circle cx="378.66" cy="96.30" r="0.76" fill="#111" />
<circle cx="380.75" cy="91.42" r="0.76" fill="#111" />
<circle cx="371.57" cy="90.83" r="0.76" fill="#111" />
<circle cx="373.27" cy="96.48" r="0.76" fill="#111" />
<circle cx="369.71" cy="90.93" r="0.76" fill="#111" />
<circle cx="380.41" cy="96.81" r="0.76" fill="#111" />
<circle cx="376.54" cy="90.37" r="0.76" fill="#111" />
<circle cx="371.17" cy="97.41" r="0.76" fill="#111" />
<circle cx="378.23" cy="90.22" r="0.76" fill="#111" />
<circle cx="375.63" cy="97.52" r="0.76" fill="#111" />
<circle cx="374.14" cy="89.67" r="0.76" fill="#111" />
<circle cx="377.74" cy="98.14" r="0.76" fill="#111" />
<circle cx="379.91" cy="89.37" r="0.76" fill="#111" />
<circle cx="373.84" cy="98.48" r="0.76" fill="#111" />
<circle cx="381.69" cy="89.41" r="0.76" fill="#111" />
<circle cx="379.12" cy="98.83" r="0.76" fill="#111" />
<circle cx="372.37" cy="88.96" r="0.76" fill="#111" />
<circle cx="376.75" cy="88.52" r="0.76" fill="#111" />
<circle cx="372.24" cy="99.11" r="0.76" fill="#111" />
<circle cx="378.45" cy="88.41" r="0.76" fill="#111" />
<circle cx="375.90" cy="99.38" r="0.76" fill="#111" />
<circle cx="371.20" cy="88.16" r="0.76" fill="#111" />
<circle cx="380.61" cy="99.83" r="0.76" fill="#111" />
<circle cx="374.78" cy="87.51" r="0.76" fill="#111" />
<circle cx="377.50" cy="100.31" r="0.76" fill="#111" />
<circle cx="372.93" cy="87.12" r="0.76" fill="#111" />
<circle cx="370.43" cy="100.24" r="0.76" fill="#111" />
<circle cx="377.14" cy="86.81" r="0.76" fill="#111" />
<circle cx="373.99" cy="100.64" r="0.76" fill="#111" />
<circle cx="379.38" cy="86.53" r="0.76" fill="#111" />
<circle cx="379.32" cy="100.73" r="0.76" fill="#111" />
<circle cx="375.40" cy="101.25" r="0.76" fill="#111" />
<circle cx="371.46" cy="86.35" r="0.76" fill="#111" />
<circle cx="371.85" cy="101.36" r="0.76" fill="#111" />
<circle cx="380.59" cy="86.10" r="0.76" fill="#111" />
<circle cx="380.96" cy="101.81" r="0.76" fill="#111" />
<circle cx="375.97" cy="85.78" r="0.76" fill="#111" />
<circle cx="369.61" cy="102.05" r="0.76" fill="#111" />
<circle cx="377.06" cy="102.35" r="0.76" fill="#111" />
<circle cx="374.19" cy="85.28" r="0.76" fill="#111" />
<circle cx="382.35" cy="102.32" r="0.76" fill="#111" />
<circle cx="368.81" cy="85.16" r="0.76" fill="#111" />
<circle cx="373.45" cy="102.69" r="0.76" fill="#111" />
<circle cx="377.75" cy="84.45" r="0.76" fill="#111" />
<circle cx="375.44" cy="103.14" r="0.76" fill="#111" />
<circle cx="378.61" cy="103.25" r="0.76" fill="#111" />
<circle cx="372.19" cy="84.21" r="0.76" fill="#111" />
<circle cx="371.72" cy="103.36" r="0.76" fill="#111" />
<circle cx="378.84" cy="84.09" r="0.76" fill="#111" />
<circle cx="375.38" cy="83.90" r="0.76" fill="#111" />
<circle cx="381.11" cy="103.70" r="0.76" fill="#111" />
<circle cx="373.25" cy="83.33" r="0.76" fill="#111" />
<circle cx="370.07" cy="83.02" r="0.76" fill="#111" />
<circle cx="373.26" cy="104.53" r="0.76" fill="#111" />
<circle cx="375.99" cy="105.38" r="0.76" fill="#111" />
<circle cx="375.39" cy="81.29" r="0.76" fill="#111" />
<circle cx="373.94" cy="106.46" r="0.76" fill="#111" />
<circle cx="377.60" cy="106.89" r="0.76" fill="#111" />
<circle cx="375.05" cy="79.44" r="0.76" fill="#111" />
<circle cx="375.93" cy="107.79" r="0.76" fill="#111" />
<circle cx="375.03" cy="77.78" r="0.76" fill="#111" />
<circle cx="375.92" cy="110.69" r="0.76" fill="#111" />
<circle cx="375.15" cy="76.06" r="0.76" fill="#111" />
<circle cx="375.76" cy="113.30" r="0.76" fill="#111" />
<circle cx="375.97" cy="73.36" r="0.76" fill="#111" />
<circle cx="375.19" cy="70.96" r="0.76" fill="#111" />
<circle cx="375.50" cy="38.80" r="0.76" fill="#111" />
<circle cx="375.50" cy="63.80" r="0.76" fill="#111" />
<circle cx="432.80" cy="74.17" r="0.76" fill="#111" />
<circle cx="430.67" cy="76.52" r="0.76" fill="#111" />
<circle cx="435.01" cy="79.65" r="0.76" fill="#111" />
<circle cx="431.63" cy="82.18" r="0.76" fill="#111" />
<circle cx="434.22" cy="85.59" r="0.76" fill="#111" />
<circle cx="428.30" cy="88.02" r="0.76" fill="#111" />
<circle cx="435.70" cy="88.86" r="0.76" fill="#111" />
<circle cx="431.77" cy="88.94" r="0.76" fill="#111" />
<circle cx="433.88" cy="90.44" r="0.76" fill="#111" />
<circle cx="429.48" cy="91.03" r="0.76" fill="#111" />
<circle cx="438.42" cy="92.06" r="0.76" fill="#111" />
<circle cx="429.99" cy="92.66" r="0.76" fill="#111" />
<circle cx="434.47" cy="93.61" r="0.76" fill="#111" />
<circle cx="427.93" cy="94.45" r="0.76" fill="#111" />
<circle cx="436.46" cy="95.47" r="0.76" fill="#111" />
<circle cx="432.30" cy="95.75" r="0.76" fill="#111" />
<circle cx="433.27" cy="97.04" r="0.76" fill="#111" />
<circle cx="429.80" cy="98.90" r="0.76" fill="#111" />
<circle cx="436.32" cy="100.17" r="0.76" fill="#111" />
<circle cx="431.75" cy="101.72" r="0.76" fill="#111" />
<circle cx="434.30" cy="102.87" r="0.76" fill="#111" />
<circle cx="432.80" cy="63.80" r="0.76" fill="#111" />
<circle cx="475.22" cy="95.49" r="0.76" fill="#111" />
<circle cx="477.12" cy="95.86" r="0.76" fill="#111" />
<circle cx="473.51" cy="95.10" r="0.76" fill="#111" />
<circle cx="472.45" cy="96.26" r="0.76" fill="#111" />
<circle cx="478.95" cy="94.85" r="0.76" fill="#111" />
<circle cx="470.40" cy="96.40" r="0.76" fill="#111" />
<circle cx="472.52" cy="94.34" r="0.76" fill="#111" />
<circle cx="478.83" cy="96.79" r="0.76" fill="#111" />
<circle cx="481.31" cy="94.07" r="0.76" fill="#111" />
<circle cx="481.25" cy="96.88" r="0.76" fill="#111" />
<circle cx="476.94" cy="93.85" r="0.76" fill="#111" />
<circle cx="475.95" cy="97.58" r="0.76" fill="#111" />
<circle cx="474.71" cy="93.17" r="0.76" fill="#111" />
<circle cx="474.32" cy="97.42" r="0.76" fill="#111" />
<circle cx="478.69" cy="92.85" r="0.76" fill="#111" />
<circle cx="477.31" cy="98.01" r="0.76" fill="#111" />
<circle cx="472.66" cy="92.65" r="0.76" fill="#111" />
<circle cx="472.51" cy="98.33" r="0.76" fill="#111" />
<circle cx="470.71" cy="92.33" r="0.76" fill="#111" />
<circle cx="480.39" cy="98.53" r="0.76" fill="#111" />
<circle cx="476.35" cy="92.01" r="0.76" fill="#111" />
<circle cx="470.39" cy="98.85" r="0.76" fill="#111" />
<circle cx="479.71" cy="91.62" r="0.76" fill="#111" />
<circle cx="474.41" cy="99.23" r="0.76" fill="#111" />
<circle cx="474.99" cy="91.19" r="0.76" fill="#111" />
<circle cx="482.23" cy="99.52" r="0.76" fill="#111" />
<circle cx="472.53" cy="90.64" r="0.76" fill="#111" />
<circle cx="476.96" cy="100.12" r="0.76" fill="#111" />
<circle cx="478.09" cy="90.64" r="0.76" fill="#111" />
<circle cx="473.16" cy="100.49" r="0.76" fill="#111" />
<circle cx="476.20" cy="89.98" r="0.76" fill="#111" />
<circle cx="478.12" cy="100.86" r="0.76" fill="#111" />
<circle cx="480.42" cy="89.58" r="0.76" fill="#111" />
<circle cx="479.95" cy="100.76" r="0.76" fill="#111" />
<circle cx="474.68" cy="101.42" r="0.76" fill="#111" />
<circle cx="471.34" cy="89.58" r="0.76" fill="#111" />
<circle cx="470.73" cy="101.59" r="0.76" fill="#111" />
<circle cx="474.76" cy="89.07" r="0.76" fill="#111" />
<circle cx="481.57" cy="101.91" r="0.76" fill="#111" />
<circle cx="472.57" cy="88.68" r="0.76" fill="#111" />
<circle cx="469.42" cy="101.87" r="0.76" fill="#111" />
<circle cx="476.96" cy="102.09" r="0.76" fill="#111" />
<circle cx="477.92" cy="88.26" r="0.76" fill="#111" />
<circle cx="472.82" cy="102.40" r="0.76" fill="#111" />
<circle cx="479.28" cy="102.48" r="0.76" fill="#111" />
<circle cx="479.27" cy="87.83" r="0.76" fill="#111" />
<circle cx="467.96" cy="102.95" r="0.76" fill="#111" />
<circle cx="483.44" cy="102.97" r="0.76" fill="#111" />
<circle cx="475.95" cy="87.43" r="0.76" fill="#111" />
<circle cx="474.70" cy="103.28" r="0.76" fill="#111" />
<circle cx="471.65" cy="103.54" r="0.76" fill="#111" />
<circle cx="471.70" cy="87.17" r="0.76" fill="#111" />
<circle cx="480.62" cy="103.63" r="0.76" fill="#111" />
<circle cx="477.00" cy="103.79" r="0.76" fill="#111" />
<circle cx="473.96" cy="86.82" r="0.76" fill="#111" />
<circle cx="473.46" cy="104.33" r="0.76" fill="#111" />
<circle cx="477.58" cy="86.19" r="0.76" fill="#111" />
<circle cx="480.11" cy="86.15" r="0.76" fill="#111" />
<circle cx="475.86" cy="105.15" r="0.76" fill="#111" />
<circle cx="481.52" cy="85.73" r="0.76" fill="#111" />
<circle cx="475.49" cy="85.04" r="0.76" fill="#111" />
<circle cx="477.53" cy="105.92" r="0.76" fill="#111" />
<circle cx="473.91" cy="84.91" r="0.76" fill="#111" />
<circle cx="477.59" cy="84.14" r="0.76" fill="#111" />
<circle cx="473.59" cy="106.57" r="0.76" fill="#111" />
<circle cx="471.86" cy="83.71" r="0.76" fill="#111" />
<circle cx="475.57" cy="107.02" r="0.76" fill="#111" />
<circle cx="479.27" cy="83.53" r="0.76" fill="#111" />
<circle cx="476.00" cy="83.19" r="0.76" fill="#111" />
<circle cx="478.55" cy="107.64" r="0.76" fill="#111" />
<circle cx="475.09" cy="81.51" r="0.76" fill="#111" />
<circle cx="475.63" cy="110.38" r="0.76" fill="#111" />
<circle cx="476.51" cy="80.11" r="0.76" fill="#111" />
<circle cx="476.10" cy="78.31" r="0.76" fill="#111" />
<circle cx="475.94" cy="113.37" r="0.76" fill="#111" />
<circle cx="475.86" cy="76.22" r="0.76" fill="#111" />
<circle cx="475.33" cy="73.80" r="0.76" fill="#111" />
<circle cx="475.41" cy="70.75" r="0.76" fill="#111" />
<circle cx="475.70" cy="38.80" r="0.76" fill="#111" />
<rect x="316.30" y="211.20" width="32.40" height="1.80" fill="#787674" />
<line x1="316.30" y1="212.00" x2="348.70" y2="212.00" stroke="#161616" stroke-width="1.0"/>
<line x1="375.50" y1="196.00" x2="375.50" y2="204.60" stroke="#555" stroke-width="1.2"/>
<line x1="375.50" y1="210.40" x2="375.50" y2="213.50" stroke="#555" stroke-width="1.2"/>
<rect x="359.30" y="204.60" width="32.40" height="5.80" fill="#68a5d4" />
<line x1="359.30" y1="208.00" x2="391.70" y2="208.00" stroke="#161616" stroke-width="1.0"/>
<rect x="416.60" y="210.40" width="32.40" height="2.00" fill="#c6c3c3" />
<line x1="416.60" y1="211.40" x2="449.00" y2="211.40" stroke="#161616" stroke-width="1.0"/>
<line x1="475.70" y1="196.00" x2="475.70" y2="204.40" stroke="#555" stroke-width="1.2"/>
<line x1="475.70" y1="210.00" x2="475.70" y2="213.50" stroke="#555" stroke-width="1.2"/>
<rect x="459.50" y="204.40" width="32.40" height="5.60" fill="#a679a8" />
<line x1="459.50" y1="207.60" x2="491.90" y2="207.60" stroke="#161616" stroke-width="1.0"/>
<circle cx="332.50" cy="210.40" r="0.76" fill="#111" />
<circle cx="328.23" cy="210.38" r="0.76" fill="#111" />
<circle cx="336.83" cy="210.63" r="0.76" fill="#111" />
<circle cx="330.31" cy="211.01" r="0.76" fill="#111" />
<circle cx="334.71" cy="211.19" r="0.76" fill="#111" />
<circle cx="326.93" cy="211.08" r="0.76" fill="#111" />
<circle cx="335.86" cy="211.65" r="0.76" fill="#111" />
<circle cx="331.38" cy="212.10" r="0.76" fill="#111" />
<circle cx="333.62" cy="211.98" r="0.76" fill="#111" />
<circle cx="329.13" cy="211.95" r="0.76" fill="#111" />
<circle cx="338.11" cy="212.36" r="0.76" fill="#111" />
<circle cx="329.71" cy="212.28" r="0.76" fill="#111" />
<circle cx="334.17" cy="212.21" r="0.76" fill="#111" />
<circle cx="327.53" cy="212.59" r="0.76" fill="#111" />
<circle cx="336.34" cy="212.35" r="0.76" fill="#111" />
<circle cx="331.96" cy="213.01" r="0.76" fill="#111" />
<circle cx="333.04" cy="212.73" r="0.76" fill="#111" />
<circle cx="328.78" cy="213.03" r="0.76" fill="#111" />
<circle cx="332.50" cy="199.00" r="0.76" fill="#111" />
<circle cx="331.30" cy="202.60" r="0.76" fill="#111" />
<circle cx="375.77" cy="208.43" r="0.76" fill="#111" />
<circle cx="373.90" cy="208.53" r="0.76" fill="#111" />
<circle cx="377.10" cy="208.22" r="0.76" fill="#111" />
<circle cx="371.99" cy="208.40" r="0.76" fill="#111" />
<circle cx="378.67" cy="207.63" r="0.76" fill="#111" />
<circle cx="370.59" cy="208.43" r="0.76" fill="#111" />
<circle cx="380.72" cy="207.33" r="0.76" fill="#111" />
<circle cx="368.06" cy="208.80" r="0.76" fill="#111" />
<circle cx="380.45" cy="209.15" r="0.76" fill="#111" />
<circle cx="382.39" cy="207.19" r="0.76" fill="#111" />
<circle cx="382.78" cy="209.26" r="0.76" fill="#111" />
<circle cx="368.02" cy="206.96" r="0.76" fill="#111" />
<circle cx="384.77" cy="209.22" r="0.76" fill="#111" />
<circle cx="384.51" cy="207.11" r="0.76" fill="#111" />
<circle cx="366.78" cy="209.31" r="0.76" fill="#111" />
<circle cx="379.27" cy="209.44" r="0.76" fill="#111" />
<circle cx="375.32" cy="206.60" r="0.76" fill="#111" />
<circle cx="386.78" cy="209.79" r="0.76" fill="#111" />
<circle cx="372.60" cy="206.73" r="0.76" fill="#111" />
<circle cx="364.27" cy="209.74" r="0.76" fill="#111" />
<circle cx="376.97" cy="206.15" r="0.76" fill="#111" />
<circle cx="362.69" cy="209.96" r="0.76" fill="#111" />
<circle cx="375.72" cy="210.26" r="0.76" fill="#111" />
<circle cx="370.84" cy="206.22" r="0.76" fill="#111" />
<circle cx="377.79" cy="210.31" r="0.76" fill="#111" />
<circle cx="378.94" cy="205.72" r="0.76" fill="#111" />
<circle cx="374.06" cy="210.44" r="0.76" fill="#111" />
<circle cx="366.37" cy="205.73" r="0.76" fill="#111" />
<circle cx="371.81" cy="210.69" r="0.76" fill="#111" />
<circle cx="382.05" cy="205.55" r="0.76" fill="#111" />
<circle cx="380.04" cy="211.09" r="0.76" fill="#111" />
<circle cx="370.54" cy="211.02" r="0.76" fill="#111" />
<circle cx="369.48" cy="205.39" r="0.76" fill="#111" />
<circle cx="382.10" cy="211.41" r="0.76" fill="#111" />
<circle cx="374.17" cy="204.93" r="0.76" fill="#111" />
<circle cx="368.27" cy="211.57" r="0.76" fill="#111" />
<circle cx="383.52" cy="205.05" r="0.76" fill="#111" />
<circle cx="383.69" cy="211.81" r="0.76" fill="#111" />
<circle cx="366.22" cy="211.76" r="0.76" fill="#111" />
<circle cx="373.01" cy="204.70" r="0.76" fill="#111" />
<circle cx="375.20" cy="212.18" r="0.76" fill="#111" />
<circle cx="378.25" cy="212.04" r="0.76" fill="#111" />
<circle cx="376.04" cy="204.12" r="0.76" fill="#111" />
<circle cx="374.00" cy="212.54" r="0.76" fill="#111" />
<circle cx="385.85" cy="212.32" r="0.76" fill="#111" />
<circle cx="372.20" cy="212.66" r="0.76" fill="#111" />
<circle cx="378.12" cy="203.69" r="0.76" fill="#111" />
<circle cx="369.84" cy="212.83" r="0.76" fill="#111" />
<circle cx="365.13" cy="212.87" r="0.76" fill="#111" />
<circle cx="374.54" cy="203.12" r="0.76" fill="#111" />
<circle cx="380.14" cy="212.96" r="0.76" fill="#111" />
<circle cx="381.60" cy="213.59" r="0.76" fill="#111" />
<circle cx="372.62" cy="202.78" r="0.76" fill="#111" />
<circle cx="368.39" cy="213.52" r="0.76" fill="#111" />
<circle cx="379.85" cy="202.38" r="0.76" fill="#111" />
<circle cx="376.59" cy="202.14" r="0.76" fill="#111" />
<circle cx="377.71" cy="201.73" r="0.76" fill="#111" />
<circle cx="370.93" cy="201.57" r="0.76" fill="#111" />
<circle cx="374.76" cy="200.90" r="0.76" fill="#111" />
<circle cx="373.15" cy="200.73" r="0.76" fill="#111" />
<circle cx="376.58" cy="200.24" r="0.76" fill="#111" />
<circle cx="377.88" cy="199.44" r="0.76" fill="#111" />
<circle cx="374.90" cy="198.75" r="0.76" fill="#111" />
<circle cx="376.38" cy="198.13" r="0.76" fill="#111" />
<circle cx="372.83" cy="197.79" r="0.76" fill="#111" />
<circle cx="375.50" cy="147.00" r="0.76" fill="#111" />
<circle cx="375.20" cy="172.00" r="0.76" fill="#111" />
<circle cx="375.90" cy="175.90" r="0.76" fill="#111" />
<circle cx="375.10" cy="190.20" r="0.76" fill="#111" />
<circle cx="376.00" cy="190.60" r="0.76" fill="#111" />
<circle cx="375.50" cy="195.60" r="0.76" fill="#111" />
<circle cx="432.80" cy="209.94" r="0.76" fill="#111" />
<circle cx="428.65" cy="209.91" r="0.76" fill="#111" />
<circle cx="437.03" cy="209.98" r="0.76" fill="#111" />
<circle cx="430.65" cy="210.07" r="0.76" fill="#111" />
<circle cx="434.99" cy="210.31" r="0.76" fill="#111" />
<circle cx="427.27" cy="210.69" r="0.76" fill="#111" />
<circle cx="436.15" cy="211.03" r="0.76" fill="#111" />
<circle cx="431.68" cy="210.81" r="0.76" fill="#111" />
<circle cx="433.93" cy="211.10" r="0.76" fill="#111" />
<circle cx="429.43" cy="211.31" r="0.76" fill="#111" />
<circle cx="438.41" cy="211.44" r="0.76" fill="#111" />
<circle cx="430.00" cy="212.03" r="0.76" fill="#111" />
<circle cx="434.47" cy="211.87" r="0.76" fill="#111" />
<circle cx="427.83" cy="211.81" r="0.76" fill="#111" />
<circle cx="436.63" cy="212.00" r="0.76" fill="#111" />
<circle cx="432.26" cy="212.54" r="0.76" fill="#111" />
<circle cx="433.34" cy="212.16" r="0.76" fill="#111" />
<circle cx="429.10" cy="212.73" r="0.76" fill="#111" />
<circle cx="437.49" cy="212.34" r="0.76" fill="#111" />
<circle cx="432.80" cy="196.00" r="0.76" fill="#111" />
<circle cx="432.00" cy="206.00" r="0.76" fill="#111" />
<circle cx="433.80" cy="206.00" r="0.76" fill="#111" />
<circle cx="475.26" cy="207.65" r="0.76" fill="#111" />
<circle cx="477.06" cy="208.12" r="0.76" fill="#111" />
<circle cx="474.31" cy="207.48" r="0.76" fill="#111" />
<circle cx="472.03" cy="208.35" r="0.76" fill="#111" />
<circle cx="479.67" cy="207.24" r="0.76" fill="#111" />
<circle cx="481.31" cy="208.42" r="0.76" fill="#111" />
<circle cx="470.16" cy="207.26" r="0.76" fill="#111" />
<circle cx="482.58" cy="208.70" r="0.76" fill="#111" />
<circle cx="482.29" cy="206.81" r="0.76" fill="#111" />
<circle cx="468.56" cy="208.66" r="0.76" fill="#111" />
<circle cx="484.87" cy="208.61" r="0.76" fill="#111" />
<circle cx="468.27" cy="206.82" r="0.76" fill="#111" />
<circle cx="479.49" cy="209.16" r="0.76" fill="#111" />
<circle cx="472.46" cy="206.49" r="0.76" fill="#111" />
<circle cx="470.56" cy="209.12" r="0.76" fill="#111" />
<circle cx="484.17" cy="206.41" r="0.76" fill="#111" />
<circle cx="474.56" cy="209.26" r="0.76" fill="#111" />
<circle cx="477.49" cy="206.29" r="0.76" fill="#111" />
<circle cx="466.96" cy="209.56" r="0.76" fill="#111" />
<circle cx="464.53" cy="209.59" r="0.76" fill="#111" />
<circle cx="466.67" cy="206.04" r="0.76" fill="#111" />
<circle cx="476.44" cy="209.89" r="0.76" fill="#111" />
<circle cx="485.35" cy="205.98" r="0.76" fill="#111" />
<circle cx="473.47" cy="210.15" r="0.76" fill="#111" />
<circle cx="475.83" cy="205.70" r="0.76" fill="#111" />
<circle cx="486.16" cy="210.13" r="0.76" fill="#111" />
<circle cx="473.57" cy="205.45" r="0.76" fill="#111" />
<circle cx="463.57" cy="210.09" r="0.76" fill="#111" />
<circle cx="478.92" cy="205.10" r="0.76" fill="#111" />
<circle cx="481.23" cy="210.34" r="0.76" fill="#111" />
<circle cx="470.04" cy="204.98" r="0.76" fill="#111" />
<circle cx="478.11" cy="210.89" r="0.76" fill="#111" />
<circle cx="481.28" cy="204.76" r="0.76" fill="#111" />
<circle cx="471.27" cy="210.96" r="0.76" fill="#111" />
<circle cx="469.73" cy="210.81" r="0.76" fill="#111" />
<circle cx="477.88" cy="204.31" r="0.76" fill="#111" />
<circle cx="475.27" cy="211.27" r="0.76" fill="#111" />
<circle cx="482.76" cy="211.42" r="0.76" fill="#111" />
<circle cx="472.25" cy="204.20" r="0.76" fill="#111" />
<circle cx="467.90" cy="211.50" r="0.76" fill="#111" />
<circle cx="475.70" cy="203.57" r="0.76" fill="#111" />
<circle cx="476.51" cy="211.91" r="0.76" fill="#111" />
<circle cx="472.74" cy="212.10" r="0.76" fill="#111" />
<circle cx="473.64" cy="203.48" r="0.76" fill="#111" />
<circle cx="480.37" cy="212.08" r="0.76" fill="#111" />
<circle cx="469.88" cy="212.65" r="0.76" fill="#111" />
<circle cx="479.31" cy="202.89" r="0.76" fill="#111" />
<circle cx="478.22" cy="212.90" r="0.76" fill="#111" />
<circle cx="474.73" cy="213.09" r="0.76" fill="#111" />
<circle cx="477.85" cy="202.42" r="0.76" fill="#111" />
<circle cx="482.22" cy="213.17" r="0.76" fill="#111" />
<circle cx="468.40" cy="213.30" r="0.76" fill="#111" />
<circle cx="471.87" cy="202.06" r="0.76" fill="#111" />
<circle cx="483.40" cy="213.58" r="0.76" fill="#111" />
<circle cx="474.49" cy="201.83" r="0.76" fill="#111" />
<circle cx="480.74" cy="201.53" r="0.76" fill="#111" />
<circle cx="479.78" cy="201.05" r="0.76" fill="#111" />
<circle cx="476.90" cy="200.45" r="0.76" fill="#111" />
<circle cx="474.35" cy="199.99" r="0.76" fill="#111" />
<circle cx="472.87" cy="199.62" r="0.76" fill="#111" />
<circle cx="477.90" cy="199.09" r="0.76" fill="#111" />
<circle cx="475.93" cy="198.19" r="0.76" fill="#111" />
<circle cx="474.27" cy="197.98" r="0.76" fill="#111" />
<circle cx="475.70" cy="147.00" r="0.76" fill="#111" />
<circle cx="475.40" cy="172.00" r="0.76" fill="#111" />
<circle cx="476.10" cy="175.90" r="0.76" fill="#111" />
<circle cx="475.30" cy="190.20" r="0.76" fill="#111" />
<circle cx="476.20" cy="190.60" r="0.76" fill="#111" />
<circle cx="475.70" cy="195.60" r="0.76" fill="#111" />
<line x1="332.20" y1="144.20" x2="375.80" y2="144.20" stroke="#606060" stroke-width="1.5"/>
<circle cx="352.85" cy="140.30" r="1.05" fill="#4a4a4a" />
<circle cx="355.55" cy="140.30" r="1.05" fill="#4a4a4a" />
<line x1="432.50" y1="144.20" x2="476.00" y2="144.20" stroke="#606060" stroke-width="1.5"/>
<circle cx="453.10" cy="140.30" r="1.05" fill="#4a4a4a" />
<circle cx="455.80" cy="140.30" r="1.05" fill="#4a4a4a" />
<rect x="316.30" y="306.00" width="32.40" height="3.20" fill="#787674" />
<line x1="316.30" y1="308.00" x2="348.70" y2="308.00" stroke="#161616" stroke-width="1.0"/>
<line x1="375.50" y1="274.00" x2="375.50" y2="293.00" stroke="#555" stroke-width="1.2"/>
<line x1="375.50" y1="305.00" x2="375.50" y2="309.50" stroke="#555" stroke-width="1.2"/>
<rect x="359.30" y="293.00" width="32.40" height="12.00" fill="#68a5d4" />
<line x1="359.30" y1="300.40" x2="391.70" y2="300.40" stroke="#161616" stroke-width="1.0"/>
<rect x="416.60" y="306.40" width="32.40" height="2.80" fill="#c6c3c3" />
<line x1="416.60" y1="308.00" x2="449.00" y2="308.00" stroke="#161616" stroke-width="1.0"/>
<line x1="475.70" y1="274.00" x2="475.70" y2="293.40" stroke="#555" stroke-width="1.2"/>
<line x1="475.70" y1="305.00" x2="475.70" y2="309.50" stroke="#555" stroke-width="1.2"/>
<rect x="459.50" y="293.40" width="32.40" height="11.60" fill="#a679a8" />
<line x1="459.50" y1="299.80" x2="491.90" y2="299.80" stroke="#161616" stroke-width="1.0"/>
<circle cx="332.50" cy="304.87" r="0.76" fill="#111" />
<circle cx="328.82" cy="304.78" r="0.76" fill="#111" />
<circle cx="336.38" cy="305.38" r="0.76" fill="#111" />
<circle cx="330.47" cy="306.00" r="0.76" fill="#111" />
<circle cx="334.61" cy="305.85" r="0.76" fill="#111" />
<circle cx="327.06" cy="306.27" r="0.76" fill="#111" />
<circle cx="335.83" cy="306.91" r="0.76" fill="#111" />
<circle cx="331.38" cy="307.72" r="0.76" fill="#111" />
<circle cx="333.62" cy="308.20" r="0.76" fill="#111" />
<circle cx="329.14" cy="307.95" r="0.76" fill="#111" />
<circle cx="338.06" cy="308.63" r="0.76" fill="#111" />
<circle cx="329.75" cy="308.73" r="0.76" fill="#111" />
<circle cx="334.13" cy="308.99" r="0.76" fill="#111" />
<circle cx="327.67" cy="308.97" r="0.76" fill="#111" />
<circle cx="336.19" cy="309.48" r="0.76" fill="#111" />
<circle cx="331.98" cy="309.42" r="0.76" fill="#111" />
<circle cx="333.01" cy="309.86" r="0.76" fill="#111" />
<circle cx="329.04" cy="309.75" r="0.76" fill="#111" />
<circle cx="332.50" cy="288.00" r="0.76" fill="#111" />
<circle cx="331.50" cy="301.40" r="0.76" fill="#111" />
<circle cx="375.52" cy="300.25" r="0.76" fill="#111" />
<circle cx="377.31" cy="300.67" r="0.76" fill="#111" />
<circle cx="373.70" cy="300.04" r="0.76" fill="#111" />
<circle cx="371.68" cy="300.96" r="0.76" fill="#111" />
<circle cx="379.53" cy="299.72" r="0.76" fill="#111" />
<circle cx="381.13" cy="301.24" r="0.76" fill="#111" />
<circle cx="369.81" cy="301.37" r="0.76" fill="#111" />
<circle cx="372.09" cy="299.05" r="0.76" fill="#111" />
<circle cx="379.12" cy="301.68" r="0.76" fill="#111" />
<circle cx="377.03" cy="298.86" r="0.76" fill="#111" />
<circle cx="374.90" cy="302.00" r="0.76" fill="#111" />
<circle cx="376.27" cy="302.47" r="0.76" fill="#111" />
<circle cx="375.49" cy="298.26" r="0.76" fill="#111" />
<circle cx="372.74" cy="302.74" r="0.76" fill="#111" />
<circle cx="373.38" cy="297.93" r="0.76" fill="#111" />
<circle cx="382.97" cy="302.74" r="0.76" fill="#111" />
<circle cx="370.76" cy="303.13" r="0.76" fill="#111" />
<circle cx="379.36" cy="297.32" r="0.76" fill="#111" />
<circle cx="377.72" cy="303.39" r="0.76" fill="#111" />
<circle cx="372.31" cy="297.24" r="0.76" fill="#111" />
<circle cx="380.14" cy="303.62" r="0.76" fill="#111" />
<circle cx="375.51" cy="304.08" r="0.76" fill="#111" />
<circle cx="376.21" cy="296.56" r="0.76" fill="#111" />
<circle cx="369.29" cy="304.27" r="0.76" fill="#111" />
<circle cx="374.90" cy="296.28" r="0.76" fill="#111" />
<circle cx="373.68" cy="304.75" r="0.76" fill="#111" />
<circle cx="370.15" cy="296.18" r="0.76" fill="#111" />
<circle cx="371.84" cy="304.81" r="0.76" fill="#111" />
<circle cx="377.01" cy="305.40" r="0.76" fill="#111" />
<circle cx="378.13" cy="295.29" r="0.76" fill="#111" />
<circle cx="378.77" cy="305.43" r="0.76" fill="#111" />
<circle cx="372.51" cy="295.13" r="0.76" fill="#111" />
<circle cx="381.36" cy="305.87" r="0.76" fill="#111" />
<circle cx="369.94" cy="305.85" r="0.76" fill="#111" />
<circle cx="375.96" cy="294.68" r="0.76" fill="#111" />
<circle cx="375.40" cy="306.08" r="0.76" fill="#111" />
<circle cx="368.17" cy="306.21" r="0.76" fill="#111" />
<circle cx="371.00" cy="294.43" r="0.76" fill="#111" />
<circle cx="373.85" cy="306.61" r="0.76" fill="#111" />
<circle cx="371.57" cy="306.95" r="0.76" fill="#111" />
<circle cx="379.63" cy="293.92" r="0.76" fill="#111" />
<circle cx="378.48" cy="306.99" r="0.76" fill="#111" />
<circle cx="377.63" cy="293.54" r="0.76" fill="#111" />
<circle cx="382.23" cy="307.36" r="0.76" fill="#111" />
<circle cx="376.63" cy="307.78" r="0.76" fill="#111" />
<circle cx="374.28" cy="292.99" r="0.76" fill="#111" />
<circle cx="380.19" cy="307.96" r="0.76" fill="#111" />
<circle cx="369.67" cy="308.05" r="0.76" fill="#111" />
<circle cx="368.79" cy="308.05" r="0.76" fill="#111" />
<circle cx="373.11" cy="292.35" r="0.76" fill="#111" />
<circle cx="374.19" cy="308.62" r="0.76" fill="#111" />
<circle cx="372.44" cy="308.95" r="0.76" fill="#111" />
<circle cx="377.90" cy="309.08" r="0.76" fill="#111" />
<circle cx="381.52" cy="309.44" r="0.76" fill="#111" />
<circle cx="376.41" cy="291.79" r="0.76" fill="#111" />
<circle cx="383.51" cy="309.45" r="0.76" fill="#111" />
<circle cx="376.82" cy="309.69" r="0.76" fill="#111" />
<circle cx="374.89" cy="290.73" r="0.76" fill="#111" />
<circle cx="376.25" cy="289.77" r="0.76" fill="#111" />
<circle cx="372.78" cy="289.25" r="0.76" fill="#111" />
<circle cx="374.32" cy="288.21" r="0.76" fill="#111" />
<circle cx="376.70" cy="287.42" r="0.76" fill="#111" />
<circle cx="373.80" cy="286.51" r="0.76" fill="#111" />
<circle cx="378.56" cy="285.87" r="0.76" fill="#111" />
<circle cx="375.68" cy="285.13" r="0.76" fill="#111" />
<circle cx="374.15" cy="284.32" r="0.76" fill="#111" />
<circle cx="375.10" cy="282.53" r="0.76" fill="#111" />
<circle cx="377.02" cy="281.00" r="0.76" fill="#111" />
<circle cx="375.39" cy="279.58" r="0.76" fill="#111" />
<circle cx="375.18" cy="277.58" r="0.76" fill="#111" />
<circle cx="377.34" cy="276.15" r="0.76" fill="#111" />
<circle cx="375.50" cy="274.44" r="0.76" fill="#111" />
<circle cx="373.40" cy="272.99" r="0.76" fill="#111" />
<circle cx="375.50" cy="243.30" r="0.76" fill="#111" />
<circle cx="375.50" cy="257.00" r="0.76" fill="#111" />
<circle cx="376.10" cy="270.50" r="0.76" fill="#111" />
<circle cx="432.80" cy="303.84" r="0.76" fill="#111" />
<circle cx="429.29" cy="304.85" r="0.76" fill="#111" />
<circle cx="436.54" cy="305.11" r="0.76" fill="#111" />
<circle cx="430.83" cy="305.50" r="0.76" fill="#111" />
<circle cx="434.87" cy="305.67" r="0.76" fill="#111" />
<circle cx="427.44" cy="306.54" r="0.76" fill="#111" />
<circle cx="436.10" cy="306.58" r="0.76" fill="#111" />
<circle cx="431.68" cy="307.34" r="0.76" fill="#111" />
<circle cx="433.93" cy="307.36" r="0.76" fill="#111" />
<circle cx="429.44" cy="308.06" r="0.76" fill="#111" />
<circle cx="438.37" cy="308.31" r="0.76" fill="#111" />
<circle cx="430.04" cy="308.28" r="0.76" fill="#111" />
<circle cx="434.44" cy="308.55" r="0.76" fill="#111" />
<circle cx="427.94" cy="308.41" r="0.76" fill="#111" />
<circle cx="436.53" cy="309.06" r="0.76" fill="#111" />
<circle cx="432.28" cy="309.29" r="0.76" fill="#111" />
<circle cx="433.31" cy="309.05" r="0.76" fill="#111" />
<circle cx="429.28" cy="309.56" r="0.76" fill="#111" />
<circle cx="437.22" cy="309.89" r="0.76" fill="#111" />
<circle cx="432.80" cy="292.00" r="0.76" fill="#111" />
<circle cx="433.40" cy="302.50" r="0.76" fill="#111" />
<circle cx="434.40" cy="303.20" r="0.76" fill="#111" />
<circle cx="476.04" cy="299.76" r="0.76" fill="#111" />
<circle cx="477.08" cy="300.46" r="0.76" fill="#111" />
<circle cx="473.65" cy="299.50" r="0.76" fill="#111" />
<circle cx="471.71" cy="300.49" r="0.76" fill="#111" />
<circle cx="479.58" cy="299.13" r="0.76" fill="#111" />
<circle cx="479.73" cy="301.16" r="0.76" fill="#111" />
<circle cx="471.14" cy="298.86" r="0.76" fill="#111" />
<circle cx="474.78" cy="301.36" r="0.76" fill="#111" />
<circle cx="477.41" cy="298.39" r="0.76" fill="#111" />
<circle cx="469.88" cy="301.62" r="0.76" fill="#111" />
<circle cx="481.07" cy="298.13" r="0.76" fill="#111" />
<circle cx="481.26" cy="301.67" r="0.76" fill="#111" />
<circle cx="475.64" cy="297.61" r="0.76" fill="#111" />
<circle cx="476.44" cy="302.09" r="0.76" fill="#111" />
<circle cx="474.19" cy="297.30" r="0.76" fill="#111" />
<circle cx="473.23" cy="302.39" r="0.76" fill="#111" />
<circle cx="478.98" cy="296.92" r="0.76" fill="#111" />
<circle cx="478.42" cy="302.76" r="0.76" fill="#111" />
<circle cx="468.39" cy="303.03" r="0.76" fill="#111" />
<circle cx="472.47" cy="296.91" r="0.76" fill="#111" />
<circle cx="475.06" cy="303.29" r="0.76" fill="#111" />
<circle cx="477.43" cy="296.31" r="0.76" fill="#111" />
<circle cx="476.34" cy="303.98" r="0.76" fill="#111" />
<circle cx="470.51" cy="296.10" r="0.76" fill="#111" />
<circle cx="480.08" cy="303.86" r="0.76" fill="#111" />
<circle cx="475.67" cy="295.52" r="0.76" fill="#111" />
<circle cx="471.79" cy="304.15" r="0.76" fill="#111" />
<circle cx="473.82" cy="295.36" r="0.76" fill="#111" />
<circle cx="478.64" cy="304.58" r="0.76" fill="#111" />
<circle cx="471.70" cy="294.80" r="0.76" fill="#111" />
<circle cx="470.24" cy="304.81" r="0.76" fill="#111" />
<circle cx="478.54" cy="294.54" r="0.76" fill="#111" />
<circle cx="474.80" cy="305.13" r="0.76" fill="#111" />
<circle cx="481.49" cy="305.48" r="0.76" fill="#111" />
<circle cx="480.51" cy="294.18" r="0.76" fill="#111" />
<circle cx="477.10" cy="305.91" r="0.76" fill="#111" />
<circle cx="470.42" cy="294.01" r="0.76" fill="#111" />
<circle cx="473.16" cy="305.94" r="0.76" fill="#111" />
<circle cx="482.77" cy="306.14" r="0.76" fill="#111" />
<circle cx="475.94" cy="293.68" r="0.76" fill="#111" />
<circle cx="478.09" cy="306.65" r="0.76" fill="#111" />
<circle cx="475.08" cy="307.04" r="0.76" fill="#111" />
<circle cx="473.64" cy="293.21" r="0.76" fill="#111" />
<circle cx="480.49" cy="307.17" r="0.76" fill="#111" />
<circle cx="471.37" cy="307.28" r="0.76" fill="#111" />
<circle cx="469.12" cy="307.37" r="0.76" fill="#111" />
<circle cx="476.95" cy="307.94" r="0.76" fill="#111" />
<circle cx="476.49" cy="292.00" r="0.76" fill="#111" />
<circle cx="473.36" cy="307.76" r="0.76" fill="#111" />
<circle cx="482.08" cy="308.18" r="0.76" fill="#111" />
<circle cx="478.27" cy="308.49" r="0.76" fill="#111" />
<circle cx="474.42" cy="291.47" r="0.76" fill="#111" />
<circle cx="475.01" cy="308.90" r="0.76" fill="#111" />
<circle cx="470.97" cy="309.12" r="0.76" fill="#111" />
<circle cx="480.30" cy="309.15" r="0.76" fill="#111" />
<circle cx="473.43" cy="309.65" r="0.76" fill="#111" />
<circle cx="477.71" cy="290.29" r="0.76" fill="#111" />
<circle cx="476.76" cy="309.90" r="0.76" fill="#111" />
<circle cx="475.98" cy="289.70" r="0.76" fill="#111" />
<circle cx="473.72" cy="288.59" r="0.76" fill="#111" />
<circle cx="475.82" cy="287.55" r="0.76" fill="#111" />
<circle cx="477.89" cy="287.03" r="0.76" fill="#111" />
<circle cx="474.79" cy="285.82" r="0.76" fill="#111" />
<circle cx="477.10" cy="285.05" r="0.76" fill="#111" />
<circle cx="473.57" cy="284.23" r="0.76" fill="#111" />
<circle cx="475.37" cy="283.07" r="0.76" fill="#111" />
<circle cx="475.65" cy="280.95" r="0.76" fill="#111" />
<circle cx="476.51" cy="279.26" r="0.76" fill="#111" />
<circle cx="475.15" cy="278.06" r="0.76" fill="#111" />
<circle cx="475.79" cy="276.31" r="0.76" fill="#111" />
<circle cx="475.50" cy="274.37" r="0.76" fill="#111" />
<circle cx="473.91" cy="272.83" r="0.76" fill="#111" />
<circle cx="475.70" cy="243.30" r="0.76" fill="#111" />
<circle cx="475.70" cy="257.00" r="0.76" fill="#111" />
<circle cx="476.30" cy="270.50" r="0.76" fill="#111" />
<line x1="332.20" y1="240.60" x2="375.80" y2="240.60" stroke="#606060" stroke-width="1.5"/>
<circle cx="351.50" cy="236.70" r="1.05" fill="#4a4a4a" />
<circle cx="354.20" cy="236.70" r="1.05" fill="#4a4a4a" />
<circle cx="356.90" cy="236.70" r="1.05" fill="#4a4a4a" />
<line x1="432.50" y1="240.60" x2="476.00" y2="240.60" stroke="#606060" stroke-width="1.5"/>
<circle cx="451.75" cy="236.70" r="1.05" fill="#4a4a4a" />
<circle cx="454.45" cy="236.70" r="1.05" fill="#4a4a4a" />
<circle cx="457.15" cy="236.70" r="1.05" fill="#4a4a4a" />
<line x1="332.50" y1="381.00" x2="332.50" y2="392.00" stroke="#555" stroke-width="1.2"/>
<line x1="332.50" y1="402.00" x2="332.50" y2="406.00" stroke="#555" stroke-width="1.2"/>
<rect x="316.30" y="392.00" width="32.40" height="10.00" fill="#787674" />
<line x1="316.30" y1="399.40" x2="348.70" y2="399.40" stroke="#161616" stroke-width="1.0"/>
<line x1="375.50" y1="366.00" x2="375.50" y2="381.60" stroke="#555" stroke-width="1.2"/>
<line x1="375.50" y1="395.60" x2="375.50" y2="406.00" stroke="#555" stroke-width="1.2"/>
<rect x="359.30" y="381.60" width="32.40" height="14.00" fill="#68a5d4" />
<line x1="359.30" y1="389.60" x2="391.70" y2="389.60" stroke="#161616" stroke-width="1.0"/>
<line x1="432.80" y1="379.00" x2="432.80" y2="392.00" stroke="#555" stroke-width="1.2"/>
<line x1="432.80" y1="401.60" x2="432.80" y2="406.00" stroke="#555" stroke-width="1.2"/>
<rect x="416.60" y="392.00" width="32.40" height="9.60" fill="#c6c3c3" />
<line x1="416.60" y1="399.00" x2="449.00" y2="399.00" stroke="#161616" stroke-width="1.0"/>
<line x1="475.70" y1="366.00" x2="475.70" y2="382.00" stroke="#555" stroke-width="1.2"/>
<line x1="475.70" y1="394.20" x2="475.70" y2="406.00" stroke="#555" stroke-width="1.2"/>
<rect x="459.50" y="382.00" width="32.40" height="12.20" fill="#a679a8" />
<line x1="459.50" y1="389.60" x2="491.90" y2="389.60" stroke="#161616" stroke-width="1.0"/>
<circle cx="332.50" cy="382.08" r="0.76" fill="#111" />
<circle cx="330.27" cy="384.75" r="0.76" fill="#111" />
<circle cx="334.86" cy="387.51" r="0.76" fill="#111" />
<circle cx="331.26" cy="389.32" r="0.76" fill="#111" />
<circle cx="333.84" cy="391.87" r="0.76" fill="#111" />
<circle cx="328.91" cy="393.25" r="0.76" fill="#111" />
<circle cx="334.86" cy="394.96" r="0.76" fill="#111" />
<circle cx="331.61" cy="396.58" r="0.76" fill="#111" />
<circle cx="333.51" cy="398.52" r="0.76" fill="#111" />
<circle cx="329.27" cy="399.96" r="0.76" fill="#111" />
<circle cx="338.02" cy="400.42" r="0.76" fill="#111" />
<circle cx="329.70" cy="401.22" r="0.76" fill="#111" />
<circle cx="334.19" cy="401.69" r="0.76" fill="#111" />
<circle cx="327.48" cy="402.07" r="0.76" fill="#111" />
<circle cx="336.25" cy="402.95" r="0.76" fill="#111" />
<circle cx="332.00" cy="403.39" r="0.76" fill="#111" />
<circle cx="332.95" cy="404.57" r="0.76" fill="#111" />
<circle cx="329.73" cy="405.36" r="0.76" fill="#111" />
<circle cx="375.07" cy="389.81" r="0.76" fill="#111" />
<circle cx="377.20" cy="390.08" r="0.76" fill="#111" />
<circle cx="373.80" cy="389.20" r="0.76" fill="#111" />
<circle cx="371.45" cy="390.18" r="0.76" fill="#111" />
<circle cx="379.50" cy="389.17" r="0.76" fill="#111" />
<circle cx="380.94" cy="390.55" r="0.76" fill="#111" />
<circle cx="370.15" cy="388.79" r="0.76" fill="#111" />
<circle cx="373.68" cy="391.10" r="0.76" fill="#111" />
<circle cx="378.92" cy="391.36" r="0.76" fill="#111" />
<circle cx="372.20" cy="388.35" r="0.76" fill="#111" />
<circle cx="370.19" cy="391.47" r="0.76" fill="#111" />
<circle cx="375.78" cy="387.98" r="0.76" fill="#111" />
<circle cx="375.25" cy="392.13" r="0.76" fill="#111" />
<circle cx="377.60" cy="387.35" r="0.76" fill="#111" />
<circle cx="377.74" cy="392.05" r="0.76" fill="#111" />
<circle cx="372.24" cy="392.28" r="0.76" fill="#111" />
<circle cx="373.26" cy="386.88" r="0.76" fill="#111" />
<circle cx="381.20" cy="392.75" r="0.76" fill="#111" />
<circle cx="379.54" cy="386.53" r="0.76" fill="#111" />
<circle cx="374.07" cy="393.29" r="0.76" fill="#111" />
<circle cx="372.23" cy="386.28" r="0.76" fill="#111" />
<circle cx="378.01" cy="393.69" r="0.76" fill="#111" />
<circle cx="376.75" cy="393.85" r="0.76" fill="#111" />
<circle cx="375.28" cy="385.74" r="0.76" fill="#111" />
<circle cx="371.20" cy="393.94" r="0.76" fill="#111" />
<circle cx="377.57" cy="385.38" r="0.76" fill="#111" />
<circle cx="369.05" cy="394.27" r="0.76" fill="#111" />
<circle cx="373.95" cy="385.07" r="0.76" fill="#111" />
<circle cx="379.91" cy="394.47" r="0.76" fill="#111" />
<circle cx="374.44" cy="394.96" r="0.76" fill="#111" />
<circle cx="372.10" cy="384.34" r="0.76" fill="#111" />
<circle cx="373.04" cy="395.11" r="0.76" fill="#111" />
<circle cx="375.33" cy="383.92" r="0.76" fill="#111" />
<circle cx="377.28" cy="395.49" r="0.76" fill="#111" />
<circle cx="378.27" cy="383.59" r="0.76" fill="#111" />
<circle cx="379.37" cy="396.12" r="0.76" fill="#111" />
<circle cx="373.68" cy="383.07" r="0.76" fill="#111" />
<circle cx="371.24" cy="396.21" r="0.76" fill="#111" />
<circle cx="375.66" cy="396.82" r="0.76" fill="#111" />
<circle cx="371.41" cy="382.73" r="0.76" fill="#111" />
<circle cx="373.34" cy="397.15" r="0.76" fill="#111" />
<circle cx="380.35" cy="382.63" r="0.76" fill="#111" />
<circle cx="377.01" cy="397.44" r="0.76" fill="#111" />
<circle cx="376.31" cy="382.14" r="0.76" fill="#111" />
<circle cx="380.81" cy="397.46" r="0.76" fill="#111" />
<circle cx="378.07" cy="381.64" r="0.76" fill="#111" />
<circle cx="369.12" cy="397.75" r="0.76" fill="#111" />
<circle cx="378.85" cy="398.12" r="0.76" fill="#111" />
<circle cx="374.55" cy="380.86" r="0.76" fill="#111" />
<circle cx="375.56" cy="398.86" r="0.76" fill="#111" />
<circle cx="373.08" cy="398.81" r="0.76" fill="#111" />
<circle cx="372.84" cy="380.50" r="0.76" fill="#111" />
<circle cx="377.47" cy="399.64" r="0.76" fill="#111" />
<circle cx="376.82" cy="379.75" r="0.76" fill="#111" />
<circle cx="374.17" cy="400.50" r="0.76" fill="#111" />
<circle cx="374.32" cy="379.03" r="0.76" fill="#111" />
<circle cx="372.93" cy="400.83" r="0.76" fill="#111" />
<circle cx="377.88" cy="378.24" r="0.76" fill="#111" />
<circle cx="376.62" cy="401.94" r="0.76" fill="#111" />
<circle cx="376.50" cy="377.63" r="0.76" fill="#111" />
<circle cx="374.66" cy="377.13" r="0.76" fill="#111" />
<circle cx="374.77" cy="402.35" r="0.76" fill="#111" />
<circle cx="377.93" cy="376.42" r="0.76" fill="#111" />
<circle cx="373.08" cy="403.40" r="0.76" fill="#111" />
<circle cx="372.60" cy="375.86" r="0.76" fill="#111" />
<circle cx="375.35" cy="404.11" r="0.76" fill="#111" />
<circle cx="375.57" cy="375.23" r="0.76" fill="#111" />
<circle cx="377.79" cy="404.96" r="0.76" fill="#111" />
<circle cx="377.35" cy="374.21" r="0.76" fill="#111" />
<circle cx="373.41" cy="405.54" r="0.76" fill="#111" />
<circle cx="373.69" cy="373.83" r="0.76" fill="#111" />
<circle cx="375.77" cy="372.43" r="0.76" fill="#111" />
<circle cx="377.06" cy="371.50" r="0.76" fill="#111" />
<circle cx="374.74" cy="370.70" r="0.76" fill="#111" />
<circle cx="376.57" cy="369.56" r="0.76" fill="#111" />
<circle cx="374.70" cy="368.42" r="0.76" fill="#111" />
<circle cx="376.21" cy="367.65" r="0.76" fill="#111" />
<circle cx="374.45" cy="366.43" r="0.76" fill="#111" />
<circle cx="375.70" cy="340.20" r="0.76" fill="#111" />
<circle cx="374.90" cy="350.00" r="0.76" fill="#111" />
<circle cx="376.50" cy="351.40" r="0.76" fill="#111" />
<circle cx="375.50" cy="361.00" r="0.76" fill="#111" />
<circle cx="432.80" cy="380.42" r="0.76" fill="#111" />
<circle cx="430.73" cy="382.78" r="0.76" fill="#111" />
<circle cx="434.97" cy="384.93" r="0.76" fill="#111" />
<circle cx="431.68" cy="387.85" r="0.76" fill="#111" />
<circle cx="434.01" cy="389.84" r="0.76" fill="#111" />
<circle cx="429.42" cy="392.53" r="0.76" fill="#111" />
<circle cx="435.00" cy="393.38" r="0.76" fill="#111" />
<circle cx="432.00" cy="394.68" r="0.76" fill="#111" />
<circle cx="433.68" cy="396.13" r="0.76" fill="#111" />
<circle cx="429.86" cy="397.68" r="0.76" fill="#111" />
<circle cx="438.15" cy="398.82" r="0.76" fill="#111" />
<circle cx="430.06" cy="399.80" r="0.76" fill="#111" />
<circle cx="434.47" cy="400.34" r="0.76" fill="#111" />
<circle cx="427.74" cy="400.31" r="0.76" fill="#111" />
<circle cx="436.74" cy="401.18" r="0.76" fill="#111" />
<circle cx="432.24" cy="401.63" r="0.76" fill="#111" />
<circle cx="433.34" cy="402.28" r="0.76" fill="#111" />
<circle cx="429.20" cy="402.87" r="0.76" fill="#111" />
<circle cx="437.07" cy="404.26" r="0.76" fill="#111" />
<circle cx="431.52" cy="405.11" r="0.76" fill="#111" />
<circle cx="434.68" cy="405.19" r="0.76" fill="#111" />
<circle cx="475.52" cy="389.52" r="0.76" fill="#111" />
<circle cx="473.42" cy="389.69" r="0.76" fill="#111" />
<circle cx="477.90" cy="389.37" r="0.76" fill="#111" />
<circle cx="478.98" cy="389.96" r="0.76" fill="#111" />
<circle cx="472.37" cy="390.19" r="0.76" fill="#111" />
<circle cx="480.73" cy="388.92" r="0.76" fill="#111" />
<circle cx="470.04" cy="390.75" r="0.76" fill="#111" />
<circle cx="471.33" cy="388.43" r="0.76" fill="#111" />
<circle cx="480.75" cy="390.76" r="0.76" fill="#111" />
<circle cx="468.47" cy="391.05" r="0.76" fill="#111" />
<circle cx="469.45" cy="388.24" r="0.76" fill="#111" />
<circle cx="475.32" cy="391.49" r="0.76" fill="#111" />
<circle cx="474.00" cy="391.69" r="0.76" fill="#111" />
<circle cx="476.16" cy="387.43" r="0.76" fill="#111" />
<circle cx="477.32" cy="391.55" r="0.76" fill="#111" />
<circle cx="473.44" cy="387.32" r="0.76" fill="#111" />
<circle cx="471.90" cy="392.21" r="0.76" fill="#111" />
<circle cx="479.48" cy="392.25" r="0.76" fill="#111" />
<circle cx="477.96" cy="386.80" r="0.76" fill="#111" />
<circle cx="482.68" cy="392.26" r="0.76" fill="#111" />
<circle cx="466.78" cy="392.47" r="0.76" fill="#111" />
<circle cx="478.86" cy="386.26" r="0.76" fill="#111" />
<circle cx="477.05" cy="393.19" r="0.76" fill="#111" />
<circle cx="472.09" cy="386.22" r="0.76" fill="#111" />
<circle cx="480.84" cy="393.01" r="0.76" fill="#111" />
<circle cx="474.87" cy="393.40" r="0.76" fill="#111" />
<circle cx="480.91" cy="385.85" r="0.76" fill="#111" />
<circle cx="470.53" cy="393.47" r="0.76" fill="#111" />
<circle cx="478.45" cy="394.03" r="0.76" fill="#111" />
<circle cx="475.98" cy="385.30" r="0.76" fill="#111" />
<circle cx="473.48" cy="393.97" r="0.76" fill="#111" />
<circle cx="477.72" cy="384.67" r="0.76" fill="#111" />
<circle cx="480.35" cy="394.68" r="0.76" fill="#111" />
<circle cx="474.16" cy="384.55" r="0.76" fill="#111" />
<circle cx="475.33" cy="395.08" r="0.76" fill="#111" />
<circle cx="479.19" cy="384.04" r="0.76" fill="#111" />
<circle cx="471.10" cy="395.48" r="0.76" fill="#111" />
<circle cx="472.47" cy="383.65" r="0.76" fill="#111" />
<circle cx="475.49" cy="383.50" r="0.76" fill="#111" />
<circle cx="477.89" cy="395.98" r="0.76" fill="#111" />
<circle cx="480.83" cy="383.06" r="0.76" fill="#111" />
<circle cx="473.51" cy="396.63" r="0.76" fill="#111" />
<circle cx="473.86" cy="382.54" r="0.76" fill="#111" />
<circle cx="479.47" cy="396.78" r="0.76" fill="#111" />
<circle cx="477.62" cy="382.09" r="0.76" fill="#111" />
<circle cx="475.79" cy="397.24" r="0.76" fill="#111" />
<circle cx="475.45" cy="381.44" r="0.76" fill="#111" />
<circle cx="477.23" cy="398.13" r="0.76" fill="#111" />
<circle cx="473.31" cy="398.32" r="0.76" fill="#111" />
<circle cx="474.34" cy="380.63" r="0.76" fill="#111" />
<circle cx="475.53" cy="399.10" r="0.76" fill="#111" />
<circle cx="477.62" cy="380.15" r="0.76" fill="#111" />
<circle cx="478.97" cy="399.61" r="0.76" fill="#111" />
<circle cx="475.82" cy="379.31" r="0.76" fill="#111" />
<circle cx="477.59" cy="400.47" r="0.76" fill="#111" />
<circle cx="473.66" cy="378.60" r="0.76" fill="#111" />
<circle cx="476.11" cy="400.97" r="0.76" fill="#111" />
<circle cx="477.21" cy="377.85" r="0.76" fill="#111" />
<circle cx="473.80" cy="401.65" r="0.76" fill="#111" />
<circle cx="475.60" cy="377.31" r="0.76" fill="#111" />
<circle cx="476.53" cy="402.60" r="0.76" fill="#111" />
<circle cx="473.18" cy="376.84" r="0.76" fill="#111" />
<circle cx="478.26" cy="403.13" r="0.76" fill="#111" />
<circle cx="477.21" cy="376.04" r="0.76" fill="#111" />
<circle cx="475.54" cy="375.09" r="0.76" fill="#111" />
<circle cx="474.30" cy="404.06" r="0.76" fill="#111" />
<circle cx="473.66" cy="374.66" r="0.76" fill="#111" />
<circle cx="476.65" cy="404.64" r="0.76" fill="#111" />
<circle cx="477.28" cy="373.71" r="0.76" fill="#111" />
<circle cx="473.38" cy="405.52" r="0.76" fill="#111" />
<circle cx="475.31" cy="372.83" r="0.76" fill="#111" />
<circle cx="477.53" cy="371.49" r="0.76" fill="#111" />
<circle cx="475.79" cy="370.84" r="0.76" fill="#111" />
<circle cx="474.15" cy="369.60" r="0.76" fill="#111" />
<circle cx="475.25" cy="368.52" r="0.76" fill="#111" />
<circle cx="473.52" cy="367.80" r="0.76" fill="#111" />
<circle cx="475.56" cy="366.60" r="0.76" fill="#111" />
<circle cx="475.90" cy="340.20" r="0.76" fill="#111" />
<circle cx="475.10" cy="350.60" r="0.76" fill="#111" />
<circle cx="476.30" cy="349.60" r="0.76" fill="#111" />
<circle cx="475.70" cy="361.00" r="0.76" fill="#111" />
<line x1="332.20" y1="336.80" x2="375.80" y2="336.80" stroke="#606060" stroke-width="1.5"/>
<circle cx="354.20" cy="332.90" r="1.05" fill="#4a4a4a" />
<line x1="432.50" y1="336.80" x2="476.00" y2="336.80" stroke="#606060" stroke-width="1.5"/>
<circle cx="453.10" cy="332.90" r="1.05" fill="#4a4a4a" />
<circle cx="455.80" cy="332.90" r="1.05" fill="#4a4a4a" />
<rect x="0.00" y="0.00" width="520.00" height="1.20" fill="#4a4a4a" />
<rect x="518.60" y="0.00" width="1.40" height="430.00" fill="#4a4a4a" />
<rect x="0.00" y="0.00" width="1.00" height="430.00" fill="#000" />
<rect x="0.00" y="428.60" width="520.00" height="1.40" fill="#000" />
</svg>
</body></html>
